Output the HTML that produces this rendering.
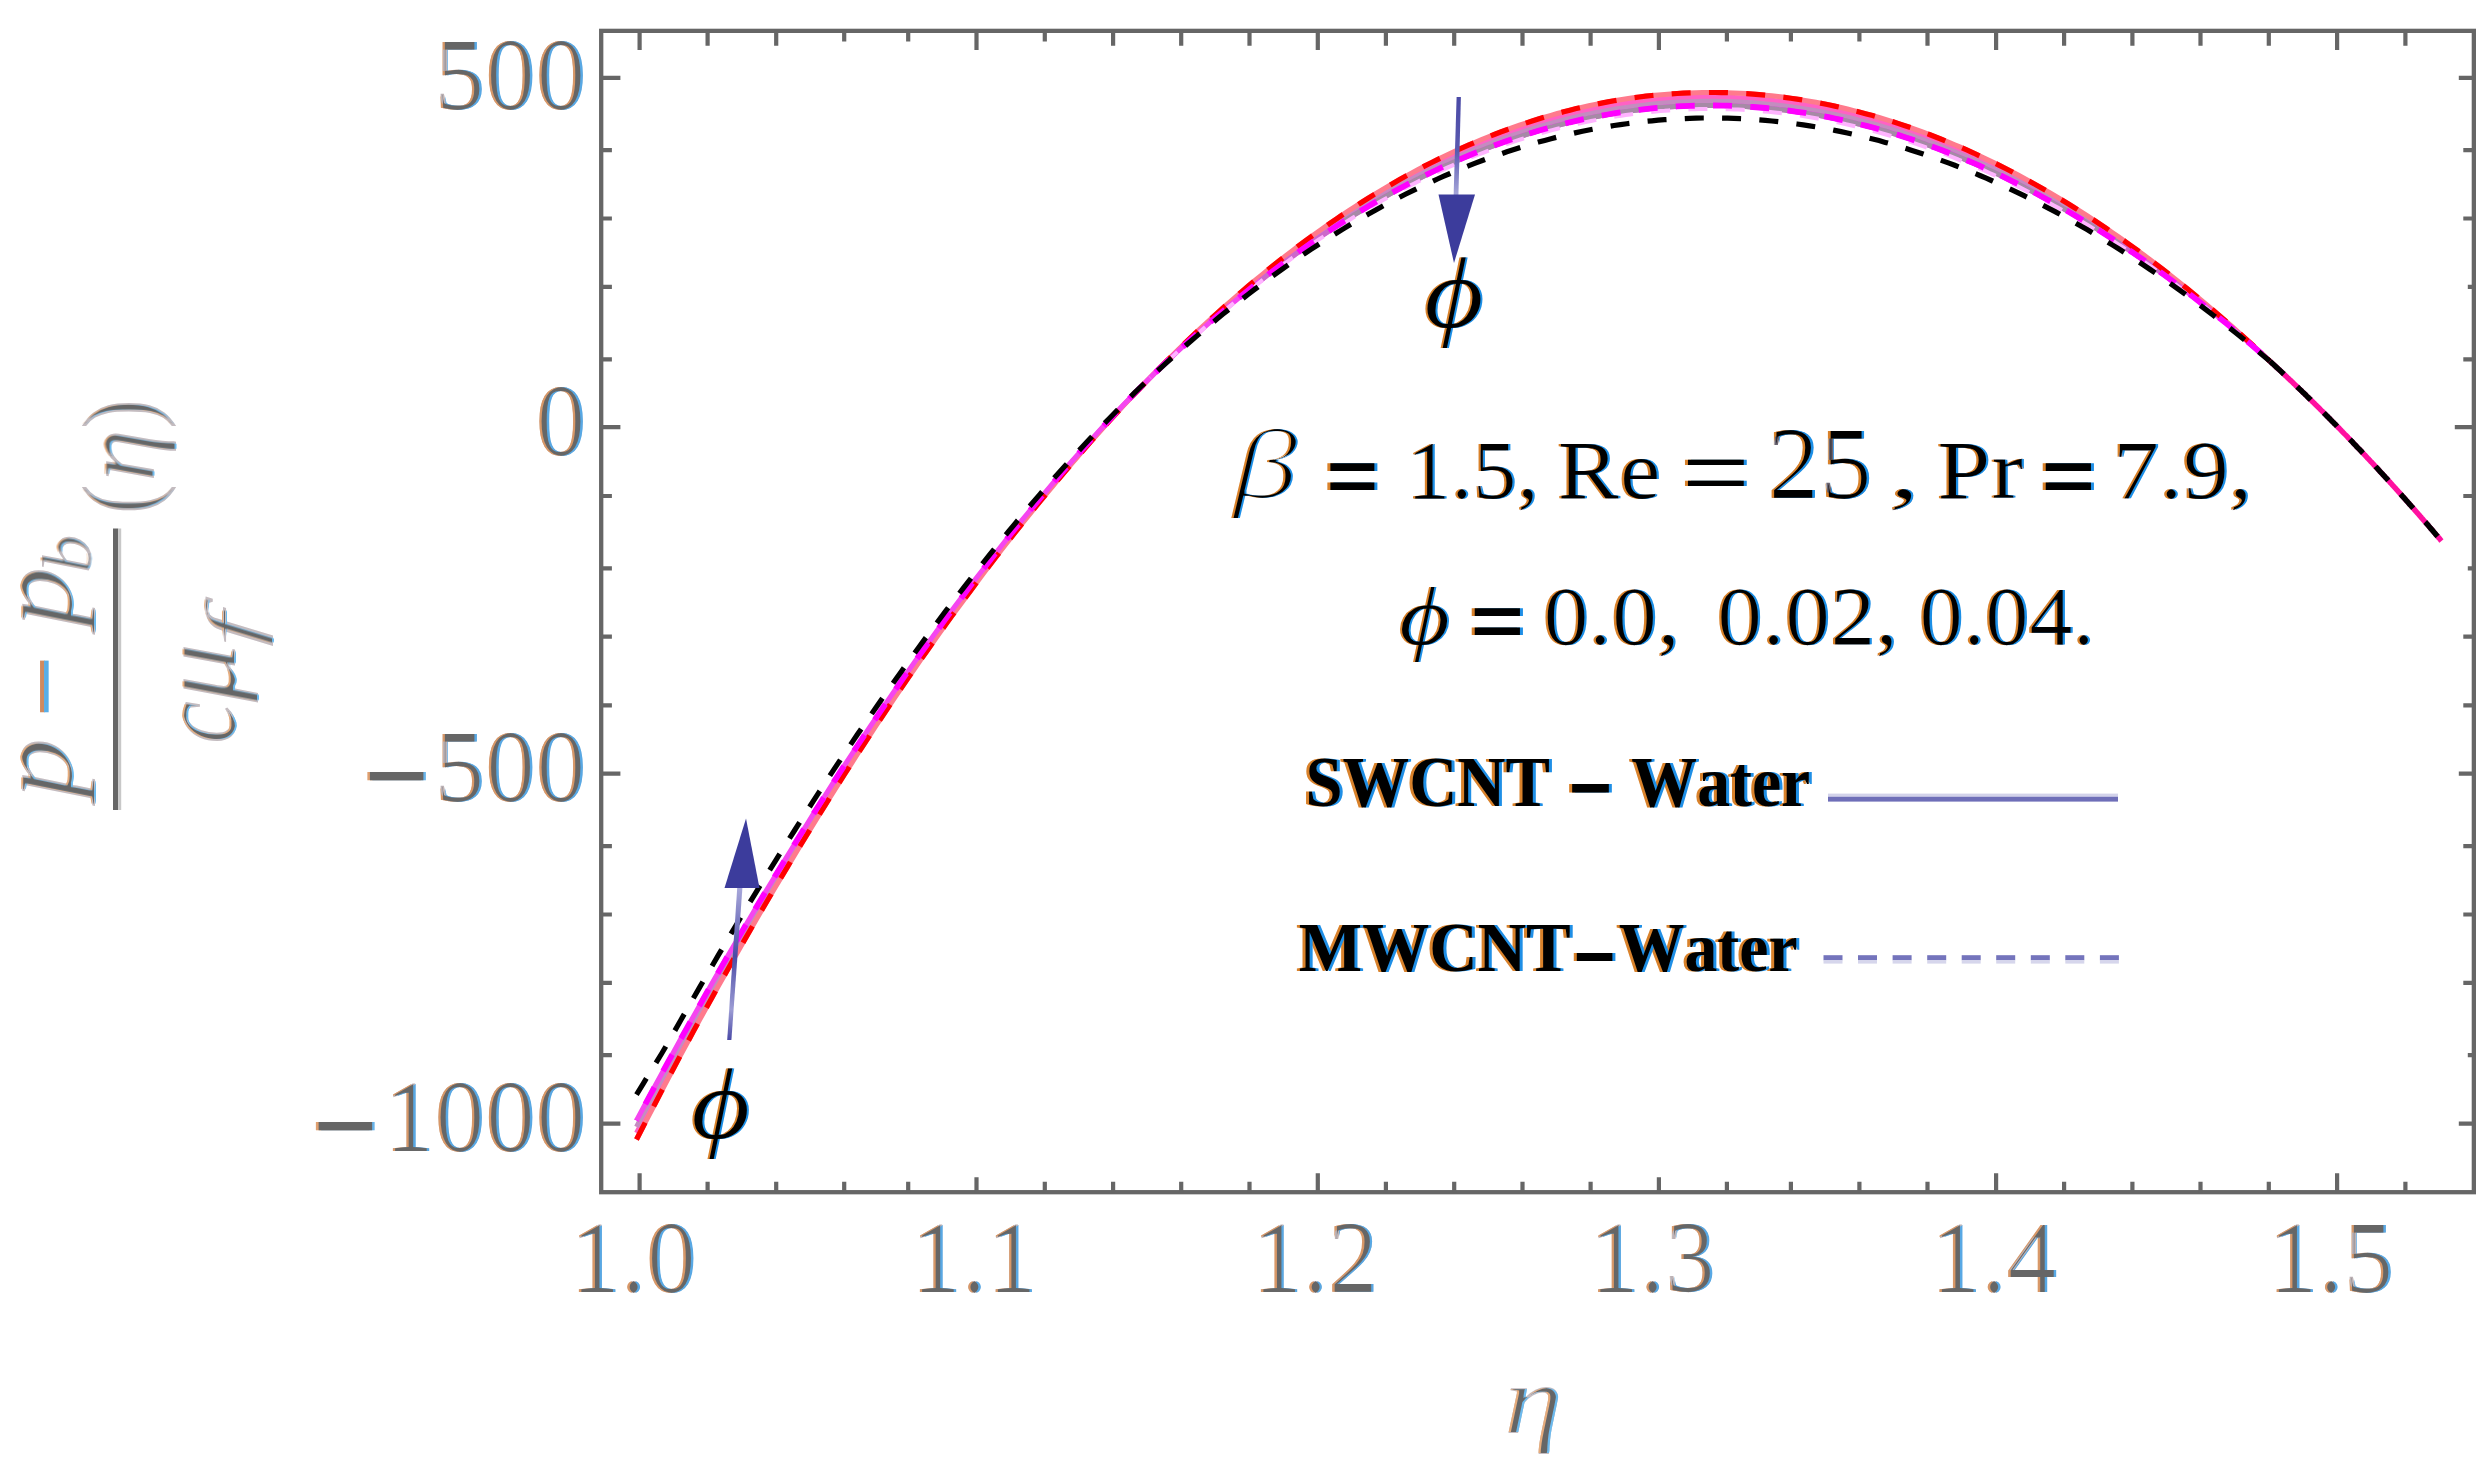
<!DOCTYPE html>
<html><head><meta charset="utf-8"><title>Pressure profile</title>
<style>
html,body{margin:0;padding:0;background:#fff;}
body{width:2492px;height:1475px;overflow:hidden;}
svg{display:block;}
text{font-kerning:none;white-space:pre;}
</style></head><body>
<svg width="2492" height="1475" viewBox="0 0 2492 1475">
<rect width="2492" height="1475" fill="#fff"/>
<defs><filter id="e2_0" x="-15%" y="-15%" width="130%" height="130%"><feMorphology operator="erode" radius="2 0"/></filter><filter id="e2_1" x="-15%" y="-15%" width="130%" height="130%"><feMorphology operator="erode" radius="2 1"/></filter><filter id="e1_0" x="-15%" y="-15%" width="130%" height="130%"><feMorphology operator="erode" radius="1 0"/></filter></defs>
<rect x="601.2" y="30.85" width="1872.6499999999999" height="1161.3500000000001" fill="none" stroke="#666666" stroke-width="4.3"/>
<path d="M639.6 30.85V50M639.6 1192.2V1173.3M707.6 30.85V45.7M707.6 1192.2V1181.8M776.2 30.85V45.7M776.2 1192.2V1181.8M844.2 30.85V41.6M844.2 1192.2V1181.8M908.2 30.85V41.6M908.2 1192.2V1181.8M976.5 30.85V50M976.5 1192.2V1177.2M1044.8 30.85V41.6M1044.8 1192.2V1181.8M1113.1 30.85V45.7M1113.1 1192.2V1181.8M1181.2 30.85V45.7M1181.2 1192.2V1181.8M1249.5 30.85V45.7M1249.5 1192.2V1181.8M1317.8 30.85V50M1317.8 1192.2V1173.3M1385.9 30.85V45.7M1385.9 1192.2V1181.8M1454.2 30.85V45.7M1454.2 1192.2V1181.8M1522.5 30.85V45.7M1522.5 1192.2V1181.8M1590.6 30.85V45.7M1590.6 1192.2V1181.8M1658.9 30.85V50M1658.9 1192.2V1177.2M1726.9 30.85V41.6M1726.9 1192.2V1181.8M1790.9 30.85V41.6M1790.9 1192.2V1181.8M1859.4 30.85V41.6M1859.4 1192.2V1181.8M1927.5 30.85V45.7M1927.5 1192.2V1181.8M1996.1 30.85V50M1996.1 1192.2V1173.3M2064.1 30.85V45.7M2064.1 1192.2V1181.8M2132.4 30.85V45.7M2132.4 1192.2V1181.8M2200.5 30.85V45.7M2200.5 1192.2V1181.8M2268.8 30.85V45.7M2268.8 1192.2V1181.8M2337.1 30.85V50M2337.1 1192.2V1173.3M2405.4 30.85V45.7M2405.4 1192.2V1181.8M601.2 77.8H620.4M2473.85 77.8H2458.8M601.2 150.2H611.9M2473.85 150.2H2463.3M601.2 218.5H611.9M2473.85 218.5H2463.3M601.2 286.9H611.9M2473.85 286.9H2467.8M601.2 359.3H611.9M2473.85 359.3H2463.3M601.2 427.2H620.4M2473.85 427.2H2454.8M601.2 496H611.9M2473.85 496H2463.3M601.2 568.4H611.9M2473.85 568.4H2467.8M601.2 636.6H611.9M2473.85 636.6H2463.3M601.2 705.4H611.9M2473.85 705.4H2463.3M601.2 773.7H620.4M2473.85 773.7H2458.8M601.2 846.1H611.9M2473.85 846.1H2463.3M601.2 914.5H611.9M2473.85 914.5H2463.3M601.2 982.8H611.9M2473.85 982.8H2463.3M601.2 1055.2H611.9M2473.85 1055.2H2467.8M601.2 1123.6H620.4M2473.85 1123.6H2458.8" stroke="#666666" stroke-width="4.2" fill="none"/>
<rect x="1828" y="793.6" width="290" height="4" fill="#d2d2ea"/>
<rect x="1828" y="796.8" width="290" height="4.8" fill="#6e6eb8"/>
<rect x="1823.5" y="955.2" width="19" height="5" fill="#7474bc"/><rect x="1823.5" y="960" width="19" height="3.6" fill="#d6d6ec"/>
<rect x="1858.0" y="955.2" width="19" height="5" fill="#7474bc"/><rect x="1858.0" y="960" width="19" height="3.6" fill="#d6d6ec"/>
<rect x="1892.6" y="955.2" width="19" height="5" fill="#7474bc"/><rect x="1892.6" y="960" width="19" height="3.6" fill="#d6d6ec"/>
<rect x="1927.2" y="955.2" width="19" height="5" fill="#7474bc"/><rect x="1927.2" y="960" width="19" height="3.6" fill="#d6d6ec"/>
<rect x="1961.7" y="955.2" width="19" height="5" fill="#7474bc"/><rect x="1961.7" y="960" width="19" height="3.6" fill="#d6d6ec"/>
<rect x="1996.2" y="955.2" width="19" height="5" fill="#7474bc"/><rect x="1996.2" y="960" width="19" height="3.6" fill="#d6d6ec"/>
<rect x="2030.8" y="955.2" width="19" height="5" fill="#7474bc"/><rect x="2030.8" y="960" width="19" height="3.6" fill="#d6d6ec"/>
<rect x="2065.3" y="955.2" width="19" height="5" fill="#7474bc"/><rect x="2065.3" y="960" width="19" height="3.6" fill="#d6d6ec"/>
<rect x="2099.9" y="955.2" width="19" height="5" fill="#7474bc"/><rect x="2099.9" y="960" width="19" height="3.6" fill="#d6d6ec"/>
<text x="434.85" y="109.2" font-family='"Liberation Serif", serif' font-size="101" fill="#bdb3b6">500</text>
<text x="432.45" y="109.2" font-family='"Liberation Serif", serif' font-size="101" fill="#d89868" filter="url(#e2_0)">500</text>
<text x="437.25" y="109.2" font-family='"Liberation Serif", serif' font-size="101" fill="#58a8e4" filter="url(#e2_0)">500</text>
<text x="434.85" y="109.2" font-family='"Liberation Serif", serif' font-size="101" fill="#666666" filter="url(#e2_0)">500</text>
<text x="535.85" y="455.2" font-family='"Liberation Serif", serif' font-size="101" fill="#bdb3b6">0</text>
<text x="533.45" y="455.2" font-family='"Liberation Serif", serif' font-size="101" fill="#d89868" filter="url(#e2_0)">0</text>
<text x="538.25" y="455.2" font-family='"Liberation Serif", serif' font-size="101" fill="#58a8e4" filter="url(#e2_0)">0</text>
<text x="535.85" y="455.2" font-family='"Liberation Serif", serif' font-size="101" fill="#666666" filter="url(#e2_0)">0</text>
<text x="434.85" y="800.7" font-family='"Liberation Serif", serif' font-size="101" fill="#bdb3b6">500</text>
<text x="432.45" y="800.7" font-family='"Liberation Serif", serif' font-size="101" fill="#d89868" filter="url(#e2_0)">500</text>
<text x="437.25" y="800.7" font-family='"Liberation Serif", serif' font-size="101" fill="#58a8e4" filter="url(#e2_0)">500</text>
<text x="434.85" y="800.7" font-family='"Liberation Serif", serif' font-size="101" fill="#666666" filter="url(#e2_0)">500</text>
<text transform="translate(361.67,830.80) scale(1.1383,1.63)" font-family='"Liberation Serif", serif' font-style="normal" font-weight="normal" font-size="101" fill="#e0a070" >−</text>
<text transform="translate(366.87,830.80) scale(1.1383,1.63)" font-family='"Liberation Serif", serif' font-style="normal" font-weight="normal" font-size="101" fill="#68b4ea" >−</text>
<text transform="translate(364.27,830.80) scale(1.1383,1.63)" font-family='"Liberation Serif", serif' font-style="normal" font-weight="normal" font-size="101" fill="#666666" >−</text>
<text x="384.35" y="1150.8" font-family='"Liberation Serif", serif' font-size="101" fill="#bdb3b6">1000</text>
<text x="381.95" y="1150.8" font-family='"Liberation Serif", serif' font-size="101" fill="#d89868" filter="url(#e2_0)">1000</text>
<text x="386.75" y="1150.8" font-family='"Liberation Serif", serif' font-size="101" fill="#58a8e4" filter="url(#e2_0)">1000</text>
<text x="384.35" y="1150.8" font-family='"Liberation Serif", serif' font-size="101" fill="#666666" filter="url(#e2_0)">1000</text>
<text transform="translate(310.37,1180.80) scale(1.1383,1.63)" font-family='"Liberation Serif", serif' font-style="normal" font-weight="normal" font-size="101" fill="#e0a070" >−</text>
<text transform="translate(315.57,1180.80) scale(1.1383,1.63)" font-family='"Liberation Serif", serif' font-style="normal" font-weight="normal" font-size="101" fill="#68b4ea" >−</text>
<text transform="translate(312.97,1180.80) scale(1.1383,1.63)" font-family='"Liberation Serif", serif' font-style="normal" font-weight="normal" font-size="101" fill="#666666" >−</text>
<text x="570.50" y="1291.7" font-family='"Liberation Serif", serif' font-size="101" fill="#bdb3b6">1.0</text>
<text x="568.10" y="1291.7" font-family='"Liberation Serif", serif' font-size="101" fill="#d89868" filter="url(#e2_0)">1.0</text>
<text x="572.90" y="1291.7" font-family='"Liberation Serif", serif' font-size="101" fill="#58a8e4" filter="url(#e2_0)">1.0</text>
<text x="570.50" y="1291.7" font-family='"Liberation Serif", serif' font-size="101" fill="#666666" filter="url(#e2_0)">1.0</text>
<text x="911.30" y="1291.7" font-family='"Liberation Serif", serif' font-size="101" fill="#bdb3b6">1.1</text>
<text x="908.90" y="1291.7" font-family='"Liberation Serif", serif' font-size="101" fill="#d89868" filter="url(#e2_0)">1.1</text>
<text x="913.70" y="1291.7" font-family='"Liberation Serif", serif' font-size="101" fill="#58a8e4" filter="url(#e2_0)">1.1</text>
<text x="911.30" y="1291.7" font-family='"Liberation Serif", serif' font-size="101" fill="#666666" filter="url(#e2_0)">1.1</text>
<text x="1252.40" y="1291.7" font-family='"Liberation Serif", serif' font-size="101" fill="#bdb3b6">1.2</text>
<text x="1250.00" y="1291.7" font-family='"Liberation Serif", serif' font-size="101" fill="#d89868" filter="url(#e2_0)">1.2</text>
<text x="1254.80" y="1291.7" font-family='"Liberation Serif", serif' font-size="101" fill="#58a8e4" filter="url(#e2_0)">1.2</text>
<text x="1252.40" y="1291.7" font-family='"Liberation Serif", serif' font-size="101" fill="#666666" filter="url(#e2_0)">1.2</text>
<text x="1589.60" y="1291.7" font-family='"Liberation Serif", serif' font-size="101" fill="#bdb3b6">1.3</text>
<text x="1587.20" y="1291.7" font-family='"Liberation Serif", serif' font-size="101" fill="#d89868" filter="url(#e2_0)">1.3</text>
<text x="1592.00" y="1291.7" font-family='"Liberation Serif", serif' font-size="101" fill="#58a8e4" filter="url(#e2_0)">1.3</text>
<text x="1589.60" y="1291.7" font-family='"Liberation Serif", serif' font-size="101" fill="#666666" filter="url(#e2_0)">1.3</text>
<text x="1931.00" y="1291.7" font-family='"Liberation Serif", serif' font-size="101" fill="#bdb3b6">1.4</text>
<text x="1928.60" y="1291.7" font-family='"Liberation Serif", serif' font-size="101" fill="#d89868" filter="url(#e2_0)">1.4</text>
<text x="1933.40" y="1291.7" font-family='"Liberation Serif", serif' font-size="101" fill="#58a8e4" filter="url(#e2_0)">1.4</text>
<text x="1931.00" y="1291.7" font-family='"Liberation Serif", serif' font-size="101" fill="#666666" filter="url(#e2_0)">1.4</text>
<text x="2268.10" y="1291.7" font-family='"Liberation Serif", serif' font-size="101" fill="#bdb3b6">1.5</text>
<text x="2265.70" y="1291.7" font-family='"Liberation Serif", serif' font-size="101" fill="#d89868" filter="url(#e2_0)">1.5</text>
<text x="2270.50" y="1291.7" font-family='"Liberation Serif", serif' font-size="101" fill="#58a8e4" filter="url(#e2_0)">1.5</text>
<text x="2268.10" y="1291.7" font-family='"Liberation Serif", serif' font-size="101" fill="#666666" filter="url(#e2_0)">1.5</text>
<text transform="translate(1504.29,1433.30) scale(1.2057,1.0)" font-family='"Liberation Serif", serif' font-style="italic" font-weight="normal" font-size="98" fill="#c4bcc0" >η</text>
<text transform="translate(1502.09,1433.30) scale(1.2057,1.0)" font-family='"Liberation Serif", serif' font-style="italic" font-weight="normal" font-size="98" fill="#e6ac7c" filter="url(#e2_1)" >η</text>
<text transform="translate(1506.49,1433.30) scale(1.2057,1.0)" font-family='"Liberation Serif", serif' font-style="italic" font-weight="normal" font-size="98" fill="#6cbaee" filter="url(#e2_1)" >η</text>
<text transform="translate(1504.29,1433.30) scale(1.2057,1.0)" font-family='"Liberation Serif", serif' font-style="italic" font-weight="normal" font-size="98" fill="#666666" filter="url(#e2_1)" >η</text>
<g transform="rotate(-90)">
<text transform="translate(-798.86,72.00) scale(1.1287,1.0)" font-family='"Liberation Serif", serif' font-style="italic" font-weight="normal" font-size="108" fill="#c4bcc0" >p</text>
<text transform="translate(-798.86,70.00) scale(1.1287,1.0)" font-family='"Liberation Serif", serif' font-style="italic" font-weight="normal" font-size="108" fill="#e6ac7c" filter="url(#e2_1)" >p</text>
<text transform="translate(-798.86,74.00) scale(1.1287,1.0)" font-family='"Liberation Serif", serif' font-style="italic" font-weight="normal" font-size="108" fill="#6cbaee" filter="url(#e2_1)" >p</text>
<text transform="translate(-798.86,72.00) scale(1.1287,1.0)" font-family='"Liberation Serif", serif' font-style="italic" font-weight="normal" font-size="108" fill="#666666" filter="url(#e2_1)" >p</text>
<text transform="translate(-717.52,72.70) scale(1.1089,0.92)" font-family='"Liberation Serif", serif' font-style="normal" font-weight="normal" font-size="100" fill="#cf8a60" >−</text>
<text transform="translate(-717.52,77.30) scale(1.1089,0.92)" font-family='"Liberation Serif", serif' font-style="normal" font-weight="normal" font-size="100" fill="#58aee8" >−</text>
<text transform="translate(-627.46,72.00) scale(1.1287,1.0)" font-family='"Liberation Serif", serif' font-style="italic" font-weight="normal" font-size="108" fill="#c4bcc0" >p</text>
<text transform="translate(-627.46,70.00) scale(1.1287,1.0)" font-family='"Liberation Serif", serif' font-style="italic" font-weight="normal" font-size="108" fill="#e6ac7c" filter="url(#e2_1)" >p</text>
<text transform="translate(-627.46,74.00) scale(1.1287,1.0)" font-family='"Liberation Serif", serif' font-style="italic" font-weight="normal" font-size="108" fill="#6cbaee" filter="url(#e2_1)" >p</text>
<text transform="translate(-627.46,72.00) scale(1.1287,1.0)" font-family='"Liberation Serif", serif' font-style="italic" font-weight="normal" font-size="108" fill="#666666" filter="url(#e2_1)" >p</text>
<text transform="translate(-573.40,90.50) scale(1.1161,1.0)" font-family='"Liberation Serif", serif' font-style="italic" font-weight="normal" font-size="70" fill="#c4bcc0" >b</text>
<text transform="translate(-573.40,88.50) scale(1.1161,1.0)" font-family='"Liberation Serif", serif' font-style="italic" font-weight="normal" font-size="70" fill="#e6ac7c" filter="url(#e2_1)" >b</text>
<text transform="translate(-573.40,92.50) scale(1.1161,1.0)" font-family='"Liberation Serif", serif' font-style="italic" font-weight="normal" font-size="70" fill="#6cbaee" filter="url(#e2_1)" >b</text>
<text transform="translate(-573.40,90.50) scale(1.1161,1.0)" font-family='"Liberation Serif", serif' font-style="italic" font-weight="normal" font-size="70" fill="#666666" filter="url(#e2_1)" >b</text>
<text transform="translate(-743.98,235.00) scale(0.8812,1.0)" font-family='"Liberation Serif", serif' font-style="italic" font-weight="normal" font-size="110" fill="#c4bcc0" >c</text>
<text transform="translate(-743.98,233.00) scale(0.8812,1.0)" font-family='"Liberation Serif", serif' font-style="italic" font-weight="normal" font-size="110" fill="#e6ac7c" filter="url(#e2_1)" >c</text>
<text transform="translate(-743.98,237.00) scale(0.8812,1.0)" font-family='"Liberation Serif", serif' font-style="italic" font-weight="normal" font-size="110" fill="#6cbaee" filter="url(#e2_1)" >c</text>
<text transform="translate(-743.98,235.00) scale(0.8812,1.0)" font-family='"Liberation Serif", serif' font-style="italic" font-weight="normal" font-size="110" fill="#666666" filter="url(#e2_1)" >c</text>
<text transform="translate(-702.38,235.00) scale(1.0780,1.0)" font-family='"Liberation Serif", serif' font-style="italic" font-weight="normal" font-size="110" fill="#c4bcc0" >μ</text>
<text transform="translate(-702.38,233.00) scale(1.0780,1.0)" font-family='"Liberation Serif", serif' font-style="italic" font-weight="normal" font-size="110" fill="#e6ac7c" filter="url(#e2_1)" >μ</text>
<text transform="translate(-702.38,237.00) scale(1.0780,1.0)" font-family='"Liberation Serif", serif' font-style="italic" font-weight="normal" font-size="110" fill="#6cbaee" filter="url(#e2_1)" >μ</text>
<text transform="translate(-702.38,235.00) scale(1.0780,1.0)" font-family='"Liberation Serif", serif' font-style="italic" font-weight="normal" font-size="110" fill="#666666" filter="url(#e2_1)" >μ</text>
<text transform="translate(-647.46,257.00) scale(1.7320,1.0)" font-family='"Liberation Serif", serif' font-style="italic" font-weight="normal" font-size="75" fill="#c4bcc0" >f</text>
<text transform="translate(-647.46,255.00) scale(1.7320,1.0)" font-family='"Liberation Serif", serif' font-style="italic" font-weight="normal" font-size="75" fill="#e6ac7c" filter="url(#e2_1)" >f</text>
<text transform="translate(-647.46,259.00) scale(1.7320,1.0)" font-family='"Liberation Serif", serif' font-style="italic" font-weight="normal" font-size="75" fill="#6cbaee" filter="url(#e2_1)" >f</text>
<text transform="translate(-647.46,257.00) scale(1.7320,1.0)" font-family='"Liberation Serif", serif' font-style="italic" font-weight="normal" font-size="75" fill="#666666" filter="url(#e2_1)" >f</text>
<text transform="translate(-514.17,153.50) scale(0.8686,1.0)" font-family='"Liberation Serif", serif' font-style="normal" font-weight="normal" font-size="104" fill="#c4bcc0" >(</text>
<text transform="translate(-514.17,151.50) scale(0.8686,1.0)" font-family='"Liberation Serif", serif' font-style="normal" font-weight="normal" font-size="104" fill="#e6ac7c" filter="url(#e2_1)" >(</text>
<text transform="translate(-514.17,155.50) scale(0.8686,1.0)" font-family='"Liberation Serif", serif' font-style="normal" font-weight="normal" font-size="104" fill="#6cbaee" filter="url(#e2_1)" >(</text>
<text transform="translate(-514.17,153.50) scale(0.8686,1.0)" font-family='"Liberation Serif", serif' font-style="normal" font-weight="normal" font-size="104" fill="#666666" filter="url(#e2_1)" >(</text>
<text transform="translate(-481.79,153.50) scale(1.0213,1.0)" font-family='"Liberation Serif", serif' font-style="italic" font-weight="normal" font-size="104" fill="#c4bcc0" >η</text>
<text transform="translate(-481.79,151.50) scale(1.0213,1.0)" font-family='"Liberation Serif", serif' font-style="italic" font-weight="normal" font-size="104" fill="#e6ac7c" filter="url(#e2_1)" >η</text>
<text transform="translate(-481.79,155.50) scale(1.0213,1.0)" font-family='"Liberation Serif", serif' font-style="italic" font-weight="normal" font-size="104" fill="#6cbaee" filter="url(#e2_1)" >η</text>
<text transform="translate(-481.79,153.50) scale(1.0213,1.0)" font-family='"Liberation Serif", serif' font-style="italic" font-weight="normal" font-size="104" fill="#666666" filter="url(#e2_1)" >η</text>
<text transform="translate(-428.91,153.50) scale(0.8686,1.0)" font-family='"Liberation Serif", serif' font-style="normal" font-weight="normal" font-size="104" fill="#c4bcc0" >)</text>
<text transform="translate(-428.91,151.50) scale(0.8686,1.0)" font-family='"Liberation Serif", serif' font-style="normal" font-weight="normal" font-size="104" fill="#e6ac7c" filter="url(#e2_1)" >)</text>
<text transform="translate(-428.91,155.50) scale(0.8686,1.0)" font-family='"Liberation Serif", serif' font-style="normal" font-weight="normal" font-size="104" fill="#6cbaee" filter="url(#e2_1)" >)</text>
<text transform="translate(-428.91,153.50) scale(0.8686,1.0)" font-family='"Liberation Serif", serif' font-style="normal" font-weight="normal" font-size="104" fill="#666666" filter="url(#e2_1)" >)</text>
</g>
<rect x="113" y="528.5" width="5.2" height="281.5" fill="#666666"/><rect x="118.2" y="528.5" width="3" height="281.5" fill="#c8c8c8"/>
<text transform="translate(1229.96,498.20) scale(1.3400,1.0)" font-family='"Liberation Serif", serif' font-style="italic" font-weight="normal" font-size="100" fill="#d9822b" filter="url(#e2_1)" >β</text>
<text transform="translate(1234.36,498.20) scale(1.3400,1.0)" font-family='"Liberation Serif", serif' font-style="italic" font-weight="normal" font-size="100" fill="#1f8fe6" filter="url(#e2_1)" >β</text>
<text transform="translate(1232.16,498.20) scale(1.3400,1.0)" font-family='"Liberation Serif", serif' font-style="italic" font-weight="normal" font-size="100" fill="#000" filter="url(#e2_1)" >β</text>
<text transform="translate(1323.66,500.20) scale(1.0446,0.835)" font-family='"Liberation Sans", sans-serif' font-style="normal" font-weight="bold" font-size="84" fill="#d9822b" >=</text>
<text transform="translate(1329.66,500.20) scale(1.0446,0.835)" font-family='"Liberation Sans", sans-serif' font-style="normal" font-weight="bold" font-size="84" fill="#1f8fe6" >=</text>
<text transform="translate(1326.66,500.20) scale(1.0446,0.835)" font-family='"Liberation Sans", sans-serif' font-style="normal" font-weight="bold" font-size="84" fill="#000" >=</text>
<text transform="translate(1406.53,498.20) scale(1.0775,1.0)" font-family='"Liberation Serif", serif' font-style="normal" font-weight="normal" font-size="82" fill="#6a6470" >1.5,</text>
<text transform="translate(1404.23,498.20) scale(1.0775,1.0)" font-family='"Liberation Serif", serif' font-style="normal" font-weight="normal" font-size="82" fill="#d9822b" filter="url(#e1_0)" >1.5,</text>
<text transform="translate(1408.83,498.20) scale(1.0775,1.0)" font-family='"Liberation Serif", serif' font-style="normal" font-weight="normal" font-size="82" fill="#1f8fe6" filter="url(#e1_0)" >1.5,</text>
<text transform="translate(1406.53,498.20) scale(1.0775,1.0)" font-family='"Liberation Serif", serif' font-style="normal" font-weight="normal" font-size="82" fill="#000" filter="url(#e1_0)" >1.5,</text>
<text transform="translate(1557.32,498.20) scale(1.1353,1.0)" font-family='"Liberation Serif", serif' font-style="normal" font-weight="normal" font-size="82" fill="#6a6470" >Re</text>
<text transform="translate(1555.02,498.20) scale(1.1353,1.0)" font-family='"Liberation Serif", serif' font-style="normal" font-weight="normal" font-size="82" fill="#d9822b" filter="url(#e1_0)" >Re</text>
<text transform="translate(1559.62,498.20) scale(1.1353,1.0)" font-family='"Liberation Serif", serif' font-style="normal" font-weight="normal" font-size="82" fill="#1f8fe6" filter="url(#e1_0)" >Re</text>
<text transform="translate(1557.32,498.20) scale(1.1353,1.0)" font-family='"Liberation Serif", serif' font-style="normal" font-weight="normal" font-size="82" fill="#000" filter="url(#e1_0)" >Re</text>
<text transform="translate(1679.03,507.80) scale(1.0162,0.89)" font-family='"Liberation Serif", serif' font-style="normal" font-weight="normal" font-size="118" fill="#d9822b" >=</text>
<text transform="translate(1685.03,507.80) scale(1.0162,0.89)" font-family='"Liberation Serif", serif' font-style="normal" font-weight="normal" font-size="118" fill="#1f8fe6" >=</text>
<text transform="translate(1682.03,507.80) scale(1.0162,0.89)" font-family='"Liberation Serif", serif' font-style="normal" font-weight="normal" font-size="118" fill="#000" >=</text>
<text transform="translate(1767.58,498.20) scale(1.0409,1.0)" font-family='"Liberation Serif", serif' font-style="normal" font-weight="normal" font-size="101" fill="#6a6470" >25</text>
<text transform="translate(1764.98,498.20) scale(1.0409,1.0)" font-family='"Liberation Serif", serif' font-style="normal" font-weight="normal" font-size="101" fill="#d9822b" filter="url(#e2_0)" >25</text>
<text transform="translate(1770.18,498.20) scale(1.0409,1.0)" font-family='"Liberation Serif", serif' font-style="normal" font-weight="normal" font-size="101" fill="#1f8fe6" filter="url(#e2_0)" >25</text>
<text transform="translate(1767.58,498.20) scale(1.0409,1.0)" font-family='"Liberation Serif", serif' font-style="normal" font-weight="normal" font-size="101" fill="#000" filter="url(#e2_0)" >25</text>
<text transform="translate(1887.38,498.20) scale(1.6705,1.0)" font-family='"Liberation Serif", serif' font-style="normal" font-weight="normal" font-size="82" fill="#6a6470" >,</text>
<text transform="translate(1885.08,498.20) scale(1.6705,1.0)" font-family='"Liberation Serif", serif' font-style="normal" font-weight="normal" font-size="82" fill="#d9822b" filter="url(#e1_0)" >,</text>
<text transform="translate(1889.68,498.20) scale(1.6705,1.0)" font-family='"Liberation Serif", serif' font-style="normal" font-weight="normal" font-size="82" fill="#1f8fe6" filter="url(#e1_0)" >,</text>
<text transform="translate(1887.38,498.20) scale(1.6705,1.0)" font-family='"Liberation Serif", serif' font-style="normal" font-weight="normal" font-size="82" fill="#000" filter="url(#e1_0)" >,</text>
<text transform="translate(1936.79,498.20) scale(1.1901,1.0)" font-family='"Liberation Serif", serif' font-style="normal" font-weight="normal" font-size="82" fill="#6a6470" >Pr</text>
<text transform="translate(1934.49,498.20) scale(1.1901,1.0)" font-family='"Liberation Serif", serif' font-style="normal" font-weight="normal" font-size="82" fill="#d9822b" filter="url(#e1_0)" >Pr</text>
<text transform="translate(1939.09,498.20) scale(1.1901,1.0)" font-family='"Liberation Serif", serif' font-style="normal" font-weight="normal" font-size="82" fill="#1f8fe6" filter="url(#e1_0)" >Pr</text>
<text transform="translate(1936.79,498.20) scale(1.1901,1.0)" font-family='"Liberation Serif", serif' font-style="normal" font-weight="normal" font-size="82" fill="#000" filter="url(#e1_0)" >Pr</text>
<text transform="translate(2039.06,500.20) scale(1.0730,0.835)" font-family='"Liberation Sans", sans-serif' font-style="normal" font-weight="bold" font-size="84" fill="#d9822b" >=</text>
<text transform="translate(2045.06,500.20) scale(1.0730,0.835)" font-family='"Liberation Sans", sans-serif' font-style="normal" font-weight="bold" font-size="84" fill="#1f8fe6" >=</text>
<text transform="translate(2042.06,500.20) scale(1.0730,0.835)" font-family='"Liberation Sans", sans-serif' font-style="normal" font-weight="bold" font-size="84" fill="#000" >=</text>
<text transform="translate(2112.87,498.20) scale(1.1349,1.0)" font-family='"Liberation Serif", serif' font-style="normal" font-weight="normal" font-size="82" fill="#6a6470" >7.9,</text>
<text transform="translate(2110.57,498.20) scale(1.1349,1.0)" font-family='"Liberation Serif", serif' font-style="normal" font-weight="normal" font-size="82" fill="#d9822b" filter="url(#e1_0)" >7.9,</text>
<text transform="translate(2115.17,498.20) scale(1.1349,1.0)" font-family='"Liberation Serif", serif' font-style="normal" font-weight="normal" font-size="82" fill="#1f8fe6" filter="url(#e1_0)" >7.9,</text>
<text transform="translate(2112.87,498.20) scale(1.1349,1.0)" font-family='"Liberation Serif", serif' font-style="normal" font-weight="normal" font-size="82" fill="#000" filter="url(#e1_0)" >7.9,</text>
<text transform="translate(1398.71,643.70) scale(1.2164,1.0)" font-family='"Liberation Serif", serif' font-style="italic" font-weight="normal" font-size="82" fill="#8a8088" >ϕ</text>
<text transform="translate(1396.71,643.70) scale(1.2164,1.0)" font-family='"Liberation Serif", serif' font-style="italic" font-weight="normal" font-size="82" fill="#d9822b" filter="url(#e1_0)" >ϕ</text>
<text transform="translate(1400.71,643.70) scale(1.2164,1.0)" font-family='"Liberation Serif", serif' font-style="italic" font-weight="normal" font-size="82" fill="#1f8fe6" filter="url(#e1_0)" >ϕ</text>
<text transform="translate(1398.71,643.70) scale(1.2164,1.0)" font-family='"Liberation Serif", serif' font-style="italic" font-weight="normal" font-size="82" fill="#000" filter="url(#e1_0)" >ϕ</text>
<text transform="translate(1468.06,644.70) scale(1.0730,0.835)" font-family='"Liberation Sans", sans-serif' font-style="normal" font-weight="bold" font-size="84" fill="#d9822b" >=</text>
<text transform="translate(1474.06,644.70) scale(1.0730,0.835)" font-family='"Liberation Sans", sans-serif' font-style="normal" font-weight="bold" font-size="84" fill="#1f8fe6" >=</text>
<text transform="translate(1471.06,644.70) scale(1.0730,0.835)" font-family='"Liberation Sans", sans-serif' font-style="normal" font-weight="bold" font-size="84" fill="#000" >=</text>
<text transform="translate(1543.23,643.70) scale(1.1124,1.0)" font-family='"Liberation Serif", serif' font-style="normal" font-weight="normal" font-size="82" fill="#6a6470" >0.0,</text>
<text transform="translate(1540.93,643.70) scale(1.1124,1.0)" font-family='"Liberation Serif", serif' font-style="normal" font-weight="normal" font-size="82" fill="#d9822b" filter="url(#e1_0)" >0.0,</text>
<text transform="translate(1545.53,643.70) scale(1.1124,1.0)" font-family='"Liberation Serif", serif' font-style="normal" font-weight="normal" font-size="82" fill="#1f8fe6" filter="url(#e1_0)" >0.0,</text>
<text transform="translate(1543.23,643.70) scale(1.1124,1.0)" font-family='"Liberation Serif", serif' font-style="normal" font-weight="normal" font-size="82" fill="#000" filter="url(#e1_0)" >0.0,</text>
<text transform="translate(1717.05,643.70) scale(1.1052,1.0)" font-family='"Liberation Serif", serif' font-style="normal" font-weight="normal" font-size="82" fill="#6a6470" >0.02,</text>
<text transform="translate(1714.75,643.70) scale(1.1052,1.0)" font-family='"Liberation Serif", serif' font-style="normal" font-weight="normal" font-size="82" fill="#d9822b" filter="url(#e1_0)" >0.02,</text>
<text transform="translate(1719.35,643.70) scale(1.1052,1.0)" font-family='"Liberation Serif", serif' font-style="normal" font-weight="normal" font-size="82" fill="#1f8fe6" filter="url(#e1_0)" >0.02,</text>
<text transform="translate(1717.05,643.70) scale(1.1052,1.0)" font-family='"Liberation Serif", serif' font-style="normal" font-weight="normal" font-size="82" fill="#000" filter="url(#e1_0)" >0.02,</text>
<text transform="translate(1919.36,643.70) scale(1.0690,1.0)" font-family='"Liberation Serif", serif' font-style="normal" font-weight="normal" font-size="82" fill="#6a6470" >0.04.</text>
<text transform="translate(1917.06,643.70) scale(1.0690,1.0)" font-family='"Liberation Serif", serif' font-style="normal" font-weight="normal" font-size="82" fill="#d9822b" filter="url(#e1_0)" >0.04.</text>
<text transform="translate(1921.66,643.70) scale(1.0690,1.0)" font-family='"Liberation Serif", serif' font-style="normal" font-weight="normal" font-size="82" fill="#1f8fe6" filter="url(#e1_0)" >0.04.</text>
<text transform="translate(1919.36,643.70) scale(1.0690,1.0)" font-family='"Liberation Serif", serif' font-style="normal" font-weight="normal" font-size="82" fill="#000" filter="url(#e1_0)" >0.04.</text>
<text transform="translate(1423.82,326.50) scale(1.1673,1.0)" font-family='"Liberation Serif", serif' font-style="italic" font-weight="normal" font-size="100" fill="#8a8088" >ϕ</text>
<text transform="translate(1421.82,326.50) scale(1.1673,1.0)" font-family='"Liberation Serif", serif' font-style="italic" font-weight="normal" font-size="100" fill="#d9822b" filter="url(#e1_0)" >ϕ</text>
<text transform="translate(1425.82,326.50) scale(1.1673,1.0)" font-family='"Liberation Serif", serif' font-style="italic" font-weight="normal" font-size="100" fill="#1f8fe6" filter="url(#e1_0)" >ϕ</text>
<text transform="translate(1423.82,326.50) scale(1.1673,1.0)" font-family='"Liberation Serif", serif' font-style="italic" font-weight="normal" font-size="100" fill="#000" filter="url(#e1_0)" >ϕ</text>
<text transform="translate(690.85,1137.50) scale(1.1566,1.0)" font-family='"Liberation Serif", serif' font-style="italic" font-weight="normal" font-size="100" fill="#8a8088" >ϕ</text>
<text transform="translate(688.85,1137.50) scale(1.1566,1.0)" font-family='"Liberation Serif", serif' font-style="italic" font-weight="normal" font-size="100" fill="#d9822b" filter="url(#e1_0)" >ϕ</text>
<text transform="translate(692.85,1137.50) scale(1.1566,1.0)" font-family='"Liberation Serif", serif' font-style="italic" font-weight="normal" font-size="100" fill="#1f8fe6" filter="url(#e1_0)" >ϕ</text>
<text transform="translate(690.85,1137.50) scale(1.1566,1.0)" font-family='"Liberation Serif", serif' font-style="italic" font-weight="normal" font-size="100" fill="#000" filter="url(#e1_0)" >ϕ</text>
<text transform="translate(1302.45,805.70) scale(0.9388,1.0)" font-family='"Liberation Serif", serif' font-style="normal" font-weight="bold" font-size="71" fill="#d9822b" >SWCNT</text>
<text transform="translate(1308.45,805.70) scale(0.9388,1.0)" font-family='"Liberation Serif", serif' font-style="normal" font-weight="bold" font-size="71" fill="#1f8fe6" >SWCNT</text>
<text transform="translate(1305.45,805.70) scale(0.9388,1.0)" font-family='"Liberation Serif", serif' font-style="normal" font-weight="bold" font-size="71" fill="#000" >SWCNT</text>
<text transform="translate(1565.04,828.00) scale(1.1120,1.69)" font-family='"Liberation Serif", serif' font-style="normal" font-weight="bold" font-size="71" fill="#d9822b" >−</text>
<text transform="translate(1571.04,828.00) scale(1.1120,1.69)" font-family='"Liberation Serif", serif' font-style="normal" font-weight="bold" font-size="71" fill="#1f8fe6" >−</text>
<text transform="translate(1568.04,828.00) scale(1.1120,1.69)" font-family='"Liberation Serif", serif' font-style="normal" font-weight="bold" font-size="71" fill="#000" >−</text>
<text transform="translate(1628.37,805.70) scale(0.9264,1.0)" font-family='"Liberation Serif", serif' font-style="normal" font-weight="bold" font-size="71" fill="#d9822b" >Water</text>
<text transform="translate(1634.37,805.70) scale(0.9264,1.0)" font-family='"Liberation Serif", serif' font-style="normal" font-weight="bold" font-size="71" fill="#1f8fe6" >Water</text>
<text transform="translate(1631.37,805.70) scale(0.9264,1.0)" font-family='"Liberation Serif", serif' font-style="normal" font-weight="bold" font-size="71" fill="#000" >Water</text>
<text transform="translate(1295.85,971.10) scale(0.9720,1.0)" font-family='"Liberation Serif", serif' font-style="normal" font-weight="bold" font-size="69" fill="#d9822b" >MWCNT</text>
<text transform="translate(1301.85,971.10) scale(0.9720,1.0)" font-family='"Liberation Serif", serif' font-style="normal" font-weight="bold" font-size="69" fill="#1f8fe6" >MWCNT</text>
<text transform="translate(1298.85,971.10) scale(0.9720,1.0)" font-family='"Liberation Serif", serif' font-style="normal" font-weight="bold" font-size="69" fill="#000" >MWCNT</text>
<text transform="translate(1569.86,995.00) scale(1.1099,1.66)" font-family='"Liberation Serif", serif' font-style="normal" font-weight="bold" font-size="69" fill="#d9822b" >−</text>
<text transform="translate(1575.86,995.00) scale(1.1099,1.66)" font-family='"Liberation Serif", serif' font-style="normal" font-weight="bold" font-size="69" fill="#1f8fe6" >−</text>
<text transform="translate(1572.86,995.00) scale(1.1099,1.66)" font-family='"Liberation Serif", serif' font-style="normal" font-weight="bold" font-size="69" fill="#000" >−</text>
<text transform="translate(1615.77,971.10) scale(0.9527,1.0)" font-family='"Liberation Serif", serif' font-style="normal" font-weight="bold" font-size="69" fill="#d9822b" >Water</text>
<text transform="translate(1621.77,971.10) scale(0.9527,1.0)" font-family='"Liberation Serif", serif' font-style="normal" font-weight="bold" font-size="69" fill="#1f8fe6" >Water</text>
<text transform="translate(1618.77,971.10) scale(0.9527,1.0)" font-family='"Liberation Serif", serif' font-style="normal" font-weight="bold" font-size="69" fill="#000" >Water</text>
<path d="M636.5 1133.0 L642.8 1121.0 L649.1 1108.9 L655.4 1097.0 L661.7 1085.1 L668.0 1073.2 L674.3 1061.5 L680.6 1049.7 L687.0 1038.1 L693.3 1026.5 L699.6 1015.0 L705.9 1003.7 L712.2 992.4 L718.5 981.2 L724.8 970.1 L731.1 959.0 L737.4 948.0 L743.7 937.1 L750.0 926.2 L756.3 915.4 L762.6 904.7 L768.9 894.0 L775.3 883.4 L781.6 872.8 L787.9 862.4 L794.2 851.9 L800.5 841.6 L806.8 831.4 L813.1 821.2 L819.4 811.0 L825.7 801.0 L832.0 791.0 L838.3 781.0 L844.6 771.2 L850.9 761.4 L857.2 751.6 L863.6 742.0 L869.9 732.4 L876.2 722.9 L882.5 713.4 L888.8 704.0 L895.1 694.7 L901.4 685.5 L907.7 676.3 L914.0 667.2 L920.3 658.2 L926.6 649.3 L932.9 640.4 L939.2 631.6 L945.5 622.9 L951.8 614.2 L958.2 605.6 L964.5 597.1 L970.8 588.7 L977.1 580.3 L983.4 572.0 L989.7 563.7 L996.0 555.5 L1002.3 547.4 L1008.6 539.4 L1014.9 531.4 L1021.2 523.5 L1027.5 515.7 L1033.8 508.0 L1040.1 500.3 L1046.5 492.7 L1052.8 485.1 L1059.1 477.7 L1065.4 470.3 L1071.7 462.9 L1078.0 455.7 L1084.3 448.5 L1090.6 441.4 L1096.9 434.3 L1103.2 427.3 L1109.5 420.4 L1115.8 413.6 L1122.1 406.9 L1128.4 400.2 L1134.7 393.5 L1141.1 387.0 L1147.4 380.5 L1153.7 374.1 L1160.0 367.9 L1166.3 361.7 L1172.6 355.5 L1178.9 349.4 L1185.2 343.5 L1191.5 337.5 L1197.8 331.7 L1204.1 325.9 L1210.4 320.2 L1216.7 314.6 L1223.0 309.0 L1229.4 303.5 L1235.7 298.1 L1242.0 292.8 L1248.3 287.5 L1254.6 282.3 L1260.9 277.2 L1267.2 272.1 L1273.5 267.1 L1279.8 262.2 L1286.1 257.4 L1292.4 252.6 L1298.7 247.9 L1305.0 243.3 L1311.3 238.8 L1317.7 234.3 L1324.0 229.9 L1330.3 225.5 L1336.6 221.3 L1342.9 217.1 L1349.2 213.0 L1355.5 209.0 L1361.8 205.0 L1368.1 201.1 L1374.4 197.3 L1380.7 193.5 L1387.0 189.8 L1393.3 186.2 L1399.6 182.7 L1405.9 179.2 L1412.3 175.8 L1418.6 172.5 L1424.9 169.3 L1431.2 166.1 L1437.5 163.0 L1443.8 160.0 L1450.1 157.0 L1456.4 154.1 L1462.7 151.3 L1469.0 148.6 L1475.3 145.9 L1481.6 143.3 L1487.9 140.8 L1494.2 138.3 L1500.6 135.9 L1506.9 133.6 L1513.2 131.4 L1519.5 129.2 L1525.8 127.1 L1532.1 125.1 L1538.4 123.1 L1544.7 121.2 L1551.0 119.4 L1557.3 117.7 L1563.6 116.0 L1569.9 114.4 L1576.2 112.8 L1582.5 111.4 L1588.8 110.0 L1595.2 108.7 L1601.5 107.4 L1607.8 106.3 L1614.1 105.1 L1620.4 104.1 L1626.7 103.1 L1633.0 102.3 L1639.3 101.4 L1645.6 100.7 L1651.9 100.0 L1658.2 99.4 L1664.5 98.8 L1670.8 98.4 L1677.1 98.0 L1683.5 97.6 L1689.8 97.4 L1696.1 97.2 L1702.4 97.0 L1708.7 97.0 L1715.0 97.0 L1721.3 97.1 L1727.6 97.2 L1733.9 97.5 L1740.2 97.8 L1746.5 98.1 L1752.8 98.6 L1759.1 99.1 L1765.4 99.6 L1771.8 100.3 L1778.1 101.0 L1784.4 101.7 L1790.7 102.6 L1797.0 103.5 L1803.3 104.5 L1809.6 105.5 L1815.9 106.6 L1822.2 107.8 L1828.5 109.1 L1834.8 110.4 L1841.1 111.8 L1847.4 113.3 L1853.7 114.8 L1860.0 116.4 L1866.4 118.0 L1872.7 119.8 L1879.0 121.6 L1885.3 123.4 L1891.6 125.4 L1897.9 127.4 L1904.2 129.4 L1910.5 131.6 L1916.8 133.8 L1923.1 136.0 L1929.4 138.4 L1935.7 140.8 L1942.0 143.2 L1948.3 145.8 L1954.7 148.4 L1961.0 151.0 L1967.3 153.8 L1973.6 156.6 L1979.9 159.4 L1986.2 162.3 L1992.5 165.3 L1998.8 168.4 L2005.1 171.5 L2011.4 174.7 L2017.7 178.0 L2024.0 181.3 L2030.3 184.7 L2036.6 188.2 L2042.9 191.7 L2049.3 195.3 L2055.6 198.9 L2061.9 202.6 L2068.2 206.4 L2074.5 210.3 L2080.8 214.2 L2087.1 218.2 L2093.4 222.2 L2099.7 226.3 L2106.0 230.5 L2112.3 234.7 L2118.6 239.0 L2124.9 243.4 L2131.2 247.8 L2137.6 252.3 L2143.9 256.9 L2150.2 261.5 L2156.5 266.2 L2162.8 270.9 L2169.1 275.7 L2175.4 280.6 L2181.7 285.5 L2188.0 290.5 L2194.3 295.6 L2200.6 300.7 L2206.9 305.9 L2213.2 311.2 L2219.5 316.5 L2225.9 321.9 L2232.2 327.3 L2238.5 332.8 L2244.8 338.4 L2251.1 344.0 L2257.4 349.7 L2263.7 355.4 L2270.0 361.3" fill="none" stroke="#ff62c4" stroke-width="5" stroke-linecap="butt"/>
<path d="M636.5 1126.8 L642.8 1114.8 L649.1 1103.0 L655.4 1091.1 L661.7 1079.4 L668.0 1067.7 L674.3 1056.1 L680.6 1044.5 L687.0 1033.0 L693.3 1021.6 L699.6 1010.2 L705.9 999.0 L712.2 987.8 L718.5 976.7 L724.8 965.6 L731.1 954.6 L737.4 943.7 L743.7 932.8 L750.0 922.1 L756.3 911.3 L762.6 900.7 L768.9 890.1 L775.3 879.6 L781.6 869.1 L787.9 858.7 L794.2 848.4 L800.5 838.1 L806.8 827.9 L813.1 817.8 L819.4 807.7 L825.7 797.8 L832.0 787.8 L838.3 778.0 L844.6 768.2 L850.9 758.5 L857.2 748.8 L863.6 739.2 L869.9 729.7 L876.2 720.3 L882.5 710.9 L888.8 701.6 L895.1 692.3 L901.4 683.2 L907.7 674.1 L914.0 665.1 L920.3 656.1 L926.6 647.2 L932.9 638.4 L939.2 629.7 L945.5 621.0 L951.8 612.4 L958.2 603.9 L964.5 595.4 L970.8 587.0 L977.1 578.7 L983.4 570.4 L989.7 562.2 L996.0 554.1 L1002.3 546.1 L1008.6 538.1 L1014.9 530.2 L1021.2 522.3 L1027.5 514.6 L1033.8 506.9 L1040.1 499.3 L1046.5 491.7 L1052.8 484.2 L1059.1 476.8 L1065.4 469.5 L1071.7 462.2 L1078.0 455.0 L1084.3 447.9 L1090.6 440.8 L1096.9 433.8 L1103.2 426.9 L1109.5 420.1 L1115.8 413.3 L1122.1 406.6 L1128.4 400.0 L1134.7 393.4 L1141.1 386.9 L1147.4 380.5 L1153.7 374.2 L1160.0 368.0 L1166.3 361.9 L1172.6 355.9 L1178.9 349.9 L1185.2 344.0 L1191.5 338.1 L1197.8 332.4 L1204.1 326.7 L1210.4 321.1 L1216.7 315.5 L1223.0 310.1 L1229.4 304.6 L1235.7 299.3 L1242.0 294.1 L1248.3 288.9 L1254.6 283.7 L1260.9 278.7 L1267.2 273.7 L1273.5 268.8 L1279.8 264.0 L1286.1 259.2 L1292.4 254.5 L1298.7 249.9 L1305.0 245.4 L1311.3 240.9 L1317.7 236.5 L1324.0 232.1 L1330.3 227.9 L1336.6 223.7 L1342.9 219.6 L1349.2 215.5 L1355.5 211.5 L1361.8 207.6 L1368.1 203.8 L1374.4 200.0 L1380.7 196.3 L1387.0 192.7 L1393.3 189.1 L1399.6 185.7 L1405.9 182.3 L1412.3 178.9 L1418.6 175.6 L1424.9 172.5 L1431.2 169.3 L1437.5 166.3 L1443.8 163.3 L1450.1 160.4 L1456.4 157.5 L1462.7 154.8 L1469.0 152.1 L1475.3 149.4 L1481.6 146.9 L1487.9 144.4 L1494.2 142.0 L1500.6 139.6 L1506.9 137.3 L1513.2 135.1 L1519.5 133.0 L1525.8 130.9 L1532.1 128.9 L1538.4 127.0 L1544.7 125.1 L1551.0 123.3 L1557.3 121.6 L1563.6 120.0 L1569.9 118.4 L1576.2 116.9 L1582.5 115.5 L1588.8 114.1 L1595.2 112.8 L1601.5 111.6 L1607.8 110.4 L1614.1 109.3 L1620.4 108.3 L1626.7 107.4 L1633.0 106.5 L1639.3 105.7 L1645.6 104.9 L1651.9 104.2 L1658.2 103.6 L1664.5 103.1 L1670.8 102.6 L1677.1 102.2 L1683.5 101.9 L1689.8 101.7 L1696.1 101.5 L1702.4 101.3 L1708.7 101.3 L1715.0 101.3 L1721.3 101.4 L1727.6 101.5 L1733.9 101.8 L1740.2 102.0 L1746.5 102.4 L1752.8 102.8 L1759.1 103.3 L1765.4 103.9 L1771.8 104.5 L1778.1 105.2 L1784.4 106.0 L1790.7 106.8 L1797.0 107.7 L1803.3 108.7 L1809.6 109.7 L1815.9 110.8 L1822.2 112.0 L1828.5 113.2 L1834.8 114.5 L1841.1 115.9 L1847.4 117.3 L1853.7 118.8 L1860.0 120.4 L1866.4 122.0 L1872.7 123.7 L1879.0 125.5 L1885.3 127.3 L1891.6 129.2 L1897.9 131.2 L1904.2 133.2 L1910.5 135.3 L1916.8 137.5 L1923.1 139.7 L1929.4 142.0 L1935.7 144.4 L1942.0 146.8 L1948.3 149.3 L1954.7 151.8 L1961.0 154.5 L1967.3 157.1 L1973.6 159.9 L1979.9 162.7 L1986.2 165.6 L1992.5 168.5 L1998.8 171.6 L2005.1 174.6 L2011.4 177.8 L2017.7 181.0 L2024.0 184.3 L2030.3 187.6 L2036.6 191.0 L2042.9 194.5 L2049.3 198.0 L2055.6 201.6 L2061.9 205.2 L2068.2 209.0 L2074.5 212.8 L2080.8 216.6 L2087.1 220.5 L2093.4 224.5 L2099.7 228.5 L2106.0 232.6 L2112.3 236.8 L2118.6 241.0 L2124.9 245.3 L2131.2 249.7 L2137.6 254.1 L2143.9 258.6 L2150.2 263.1 L2156.5 267.7 L2162.8 272.4 L2169.1 277.1 L2175.4 281.9 L2181.7 286.8 L2188.0 291.7 L2194.3 296.7 L2200.6 301.7 L2206.9 306.8 L2213.2 312.0 L2219.5 317.2 L2225.9 322.5 L2232.2 327.9 L2238.5 333.3 L2244.8 338.7 L2251.1 344.3 L2257.4 349.9 L2263.7 355.5 L2270.0 361.3" fill="none" stroke="#c48cc0" stroke-width="5" stroke-linecap="butt"/>
<path d="M636.5 1139.5 L642.8 1127.2 L649.1 1115.1 L655.4 1103.0 L661.7 1090.9 L668.0 1078.9 L674.3 1067.0 L680.6 1055.1 L687.0 1043.3 L693.3 1031.6 L699.6 1019.9 L705.9 1008.5 L712.2 997.2 L718.5 985.9 L724.8 974.7 L731.1 963.5 L737.4 952.4 L743.7 941.4 L750.0 930.5 L756.3 919.6 L762.6 908.8 L768.9 898.0 L775.3 887.3 L781.6 876.7 L787.9 866.1 L794.2 855.6 L800.5 845.2 L806.8 834.9 L813.1 824.6 L819.4 814.4 L825.7 804.3 L832.0 794.2 L838.3 784.2 L844.6 774.2 L850.9 764.4 L857.2 754.5 L863.6 744.8 L869.9 735.1 L876.2 725.5 L882.5 716.0 L888.8 706.5 L895.1 697.1 L901.4 687.8 L907.7 678.6 L914.0 669.5 L920.3 660.4 L926.6 651.4 L932.9 642.5 L939.2 633.6 L945.5 624.8 L951.8 616.1 L958.2 607.5 L964.5 598.9 L970.8 590.4 L977.1 581.9 L983.4 573.5 L989.7 565.2 L996.0 557.0 L1002.3 548.8 L1008.6 540.7 L1014.9 532.7 L1021.2 524.8 L1027.5 516.9 L1033.8 509.1 L1040.1 501.3 L1046.5 493.7 L1052.8 486.1 L1059.1 478.5 L1065.4 471.1 L1071.7 463.7 L1078.0 456.4 L1084.3 449.1 L1090.6 441.9 L1096.9 434.8 L1103.2 427.8 L1109.5 420.8 L1115.8 413.9 L1122.1 407.1 L1128.4 400.4 L1134.7 393.7 L1141.1 387.1 L1147.4 380.5 L1153.7 374.1 L1160.0 367.7 L1166.3 361.4 L1172.6 355.2 L1178.9 349.0 L1185.2 342.9 L1191.5 336.9 L1197.8 330.9 L1204.1 325.1 L1210.4 319.3 L1216.7 313.6 L1223.0 307.9 L1229.4 302.3 L1235.7 296.8 L1242.0 291.4 L1248.3 286.0 L1254.6 280.8 L1260.9 275.6 L1267.2 270.4 L1273.5 265.4 L1279.8 260.4 L1286.1 255.5 L1292.4 250.6 L1298.7 245.8 L1305.0 241.2 L1311.3 236.5 L1317.7 232.0 L1324.0 227.5 L1330.3 223.1 L1336.6 218.8 L1342.9 214.5 L1349.2 210.4 L1355.5 206.3 L1361.8 202.2 L1368.1 198.3 L1374.4 194.4 L1380.7 190.6 L1387.0 186.8 L1393.3 183.2 L1399.6 179.6 L1405.9 176.1 L1412.3 172.6 L1418.6 169.2 L1424.9 165.9 L1431.2 162.7 L1437.5 159.6 L1443.8 156.5 L1450.1 153.5 L1456.4 150.5 L1462.7 147.7 L1469.0 144.9 L1475.3 142.2 L1481.6 139.5 L1487.9 137.0 L1494.2 134.5 L1500.6 132.0 L1506.9 129.7 L1513.2 127.4 L1519.5 125.2 L1525.8 123.1 L1532.1 121.0 L1538.4 119.0 L1544.7 117.1 L1551.0 115.3 L1557.3 113.5 L1563.6 111.8 L1569.9 110.2 L1576.2 108.6 L1582.5 107.1 L1588.8 105.7 L1595.2 104.4 L1601.5 103.1 L1607.8 101.9 L1614.1 100.8 L1620.4 99.7 L1626.7 98.7 L1633.0 97.8 L1639.3 97.0 L1645.6 96.2 L1651.9 95.5 L1658.2 94.9 L1664.5 94.4 L1670.8 93.9 L1677.1 93.5 L1683.5 93.1 L1689.8 92.9 L1696.1 92.7 L1702.4 92.5 L1708.7 92.5 L1715.0 92.5 L1721.3 92.6 L1727.6 92.7 L1733.9 93.0 L1740.2 93.3 L1746.5 93.6 L1752.8 94.1 L1759.1 94.6 L1765.4 95.2 L1771.8 95.8 L1778.1 96.5 L1784.4 97.3 L1790.7 98.2 L1797.0 99.1 L1803.3 100.1 L1809.6 101.2 L1815.9 102.3 L1822.2 103.5 L1828.5 104.8 L1834.8 106.1 L1841.1 107.5 L1847.4 109.0 L1853.7 110.6 L1860.0 112.2 L1866.4 113.9 L1872.7 115.6 L1879.0 117.5 L1885.3 119.4 L1891.6 121.3 L1897.9 123.4 L1904.2 125.5 L1910.5 127.6 L1916.8 129.9 L1923.1 132.2 L1929.4 134.5 L1935.7 137.0 L1942.0 139.5 L1948.3 142.1 L1954.7 144.7 L1961.0 147.4 L1967.3 150.2 L1973.6 153.0 L1979.9 156.0 L1986.2 158.9 L1992.5 162.0 L1998.8 165.1 L2005.1 168.3 L2011.4 171.5 L2017.7 174.8 L2024.0 178.2 L2030.3 181.7 L2036.6 185.2 L2042.9 188.8 L2049.3 192.4 L2055.6 196.1 L2061.9 199.9 L2068.2 203.8 L2074.5 207.7 L2080.8 211.7 L2087.1 215.7 L2093.4 219.8 L2099.7 224.0 L2106.0 228.2 L2112.3 232.5 L2118.6 236.9 L2124.9 241.3 L2131.2 245.9 L2137.6 250.4 L2143.9 255.1 L2150.2 259.8 L2156.5 264.5 L2162.8 269.3 L2169.1 274.2 L2175.4 279.2 L2181.7 284.2 L2188.0 289.3 L2194.3 294.5 L2200.6 299.7 L2206.9 304.9 L2213.2 310.3 L2219.5 315.7 L2225.9 321.2 L2232.2 326.7 L2238.5 332.3 L2244.8 338.0 L2251.1 343.7 L2257.4 349.5 L2263.7 355.3 L2270.0 361.3" fill="none" stroke="#ff7a8c" stroke-width="5" stroke-linecap="butt"/>
<path d="M636.5 1120.5 L642.8 1108.7 L649.1 1097.0 L655.4 1085.3 L661.7 1073.7 L668.0 1062.2 L674.3 1050.7 L680.6 1039.3 L687.0 1027.9 L693.3 1016.6 L699.6 1005.4 L705.9 994.2 L712.2 983.1 L718.5 972.1 L724.8 961.1 L731.1 950.2 L737.4 939.4 L743.7 928.6 L750.0 917.9 L756.3 907.3 L762.6 896.7 L768.9 886.2 L775.3 875.7 L781.6 865.4 L787.9 855.0 L794.2 844.8 L800.5 834.6 L806.8 824.5 L813.1 814.4 L819.4 804.5 L825.7 794.6 L832.0 784.7 L838.3 774.9 L844.6 765.2 L850.9 755.6 L857.2 746.0 L863.6 736.5 L869.9 727.0 L876.2 717.7 L882.5 708.4 L888.8 699.1 L895.1 690.0 L901.4 680.9 L907.7 671.8 L914.0 662.9 L920.3 654.0 L926.6 645.2 L932.9 636.4 L939.2 627.7 L945.5 619.1 L951.8 610.6 L958.2 602.1 L964.5 593.7 L970.8 585.3 L977.1 577.1 L983.4 568.9 L989.7 560.7 L996.0 552.7 L1002.3 544.7 L1008.6 536.8 L1014.9 528.9 L1021.2 521.2 L1027.5 513.5 L1033.8 505.8 L1040.1 498.3 L1046.5 490.8 L1052.8 483.3 L1059.1 476.0 L1065.4 468.7 L1071.7 461.5 L1078.0 454.3 L1084.3 447.3 L1090.6 440.3 L1096.9 433.3 L1103.2 426.5 L1109.5 419.7 L1115.8 413.0 L1122.1 406.3 L1128.4 399.8 L1134.7 393.3 L1141.1 386.8 L1147.4 380.5 L1153.7 374.3 L1160.0 368.2 L1166.3 362.1 L1172.6 356.2 L1178.9 350.3 L1185.2 344.5 L1191.5 338.7 L1197.8 333.1 L1204.1 327.5 L1210.4 321.9 L1216.7 316.5 L1223.0 311.1 L1229.4 305.8 L1235.7 300.5 L1242.0 295.3 L1248.3 290.2 L1254.6 285.2 L1260.9 280.2 L1267.2 275.3 L1273.5 270.5 L1279.8 265.7 L1286.1 261.0 L1292.4 256.4 L1298.7 251.8 L1305.0 247.4 L1311.3 242.9 L1317.7 238.6 L1324.0 234.3 L1330.3 230.1 L1336.6 226.0 L1342.9 222.0 L1349.2 218.0 L1355.5 214.0 L1361.8 210.2 L1368.1 206.4 L1374.4 202.7 L1380.7 199.1 L1387.0 195.5 L1393.3 192.0 L1399.6 188.6 L1405.9 185.2 L1412.3 181.9 L1418.6 178.7 L1424.9 175.6 L1431.2 172.5 L1437.5 169.5 L1443.8 166.5 L1450.1 163.7 L1456.4 160.9 L1462.7 158.1 L1469.0 155.5 L1475.3 152.9 L1481.6 150.4 L1487.9 147.9 L1494.2 145.5 L1500.6 143.2 L1506.9 141.0 L1513.2 138.8 L1519.5 136.7 L1525.8 134.7 L1532.1 132.7 L1538.4 130.8 L1544.7 129.0 L1551.0 127.2 L1557.3 125.5 L1563.6 123.9 L1569.9 122.3 L1576.2 120.9 L1582.5 119.4 L1588.8 118.1 L1595.2 116.8 L1601.5 115.6 L1607.8 114.5 L1614.1 113.4 L1620.4 112.4 L1626.7 111.5 L1633.0 110.6 L1639.3 109.8 L1645.6 109.1 L1651.9 108.4 L1658.2 107.8 L1664.5 107.3 L1670.8 106.8 L1677.1 106.4 L1683.5 106.1 L1689.8 105.9 L1696.1 105.7 L1702.4 105.5 L1708.7 105.5 L1715.0 105.5 L1721.3 105.6 L1727.6 105.7 L1733.9 106.0 L1740.2 106.2 L1746.5 106.6 L1752.8 107.0 L1759.1 107.5 L1765.4 108.0 L1771.8 108.7 L1778.1 109.3 L1784.4 110.1 L1790.7 110.9 L1797.0 111.8 L1803.3 112.7 L1809.6 113.8 L1815.9 114.8 L1822.2 116.0 L1828.5 117.2 L1834.8 118.5 L1841.1 119.8 L1847.4 121.2 L1853.7 122.7 L1860.0 124.3 L1866.4 125.9 L1872.7 127.5 L1879.0 129.3 L1885.3 131.1 L1891.6 133.0 L1897.9 134.9 L1904.2 136.9 L1910.5 139.0 L1916.8 141.1 L1923.1 143.3 L1929.4 145.5 L1935.7 147.9 L1942.0 150.3 L1948.3 152.7 L1954.7 155.2 L1961.0 157.8 L1967.3 160.5 L1973.6 163.2 L1979.9 165.9 L1986.2 168.8 L1992.5 171.7 L1998.8 174.6 L2005.1 177.7 L2011.4 180.8 L2017.7 183.9 L2024.0 187.1 L2030.3 190.4 L2036.6 193.8 L2042.9 197.2 L2049.3 200.7 L2055.6 204.2 L2061.9 207.8 L2068.2 211.4 L2074.5 215.2 L2080.8 219.0 L2087.1 222.8 L2093.4 226.7 L2099.7 230.7 L2106.0 234.7 L2112.3 238.8 L2118.6 243.0 L2124.9 247.2 L2131.2 251.5 L2137.6 255.8 L2143.9 260.2 L2150.2 264.7 L2156.5 269.3 L2162.8 273.8 L2169.1 278.5 L2175.4 283.2 L2181.7 288.0 L2188.0 292.8 L2194.3 297.7 L2200.6 302.7 L2206.9 307.7 L2213.2 312.8 L2219.5 317.9 L2225.9 323.1 L2232.2 328.4 L2238.5 333.7 L2244.8 339.1 L2251.1 344.6 L2257.4 350.1 L2263.7 355.6 L2270.0 361.3" fill="none" stroke="#f545f0" stroke-width="5" stroke-linecap="butt"/>
<path d="M1330.0 230.3 L1333.1 228.3 L1336.1 226.3 L1339.2 224.3 L1342.2 222.4 L1345.3 220.4 L1348.3 218.5 L1351.4 216.6 L1354.4 214.7 L1357.5 212.8 L1360.5 211.0 L1363.6 209.1 L1366.6 207.3 L1369.7 205.5 L1372.7 203.7 L1375.8 201.9 L1378.8 200.2 L1381.9 198.4 L1384.9 196.7 L1388.0 195.0 L1391.0 193.3 L1394.1 191.6 L1397.1 189.9 L1400.2 188.3 L1403.2 186.7 L1406.3 185.1 L1409.3 183.5 L1412.4 181.9 L1415.4 180.3 L1418.5 178.8 L1421.5 177.2 L1424.6 175.7 L1427.6 174.2 L1430.7 172.7 L1433.7 171.3 L1436.8 169.8 L1439.8 168.4 L1442.9 167.0 L1445.9 165.6 L1449.0 164.2 L1452.0 162.8 L1455.1 161.5 L1458.1 160.1 L1461.2 158.8 L1464.2 157.5 L1467.3 156.2 L1470.3 154.9 L1473.4 153.7 L1476.4 152.4 L1479.5 151.2 L1482.5 150.0 L1485.6 148.8 L1488.6 147.7 L1491.7 146.5 L1494.7 145.4 L1497.8 144.2 L1500.8 143.1 L1503.9 142.0 L1506.9 141.0 L1510.0 139.9 L1513.0 138.9 L1516.1 137.8 L1519.1 136.8 L1522.2 135.8 L1525.2 134.8 L1528.3 133.9 L1531.3 132.9 L1534.4 132.0 L1537.4 131.1 L1540.5 130.2 L1543.5 129.3 L1546.6 128.4 L1549.6 127.6 L1552.7 126.8 L1555.7 125.9 L1558.8 125.1 L1561.8 124.4 L1564.9 123.6 L1567.9 122.8 L1571.0 122.1 L1574.0 121.4 L1577.1 120.7 L1580.1 120.0 L1583.2 119.3 L1586.2 118.7 L1589.3 118.0 L1592.3 117.4 L1595.4 116.8 L1598.4 116.2 L1601.5 115.6 L1604.5 115.1 L1607.6 114.5 L1610.6 114.0 L1613.7 113.5 L1616.7 113.0 L1619.8 112.5 L1622.8 112.0 L1625.9 111.6 L1628.9 111.1 L1632.0 110.7 L1635.0 110.3 L1638.1 109.9 L1641.1 109.6 L1644.2 109.2 L1647.2 108.9 L1650.3 108.6 L1653.3 108.3 L1656.4 108.0 L1659.4 107.7 L1662.5 107.4 L1665.5 107.2 L1668.6 107.0 L1671.6 106.8 L1674.7 106.6 L1677.7 106.4 L1680.8 106.2 L1683.8 106.1 L1686.9 106.0 L1689.9 105.8 L1693.0 105.7 L1696.0 105.7 L1699.1 105.6 L1702.1 105.5 L1705.2 105.5 L1708.2 105.5 L1711.3 105.5 L1714.3 105.5 L1717.4 105.5 L1720.4 105.6 L1723.5 105.6 L1726.5 105.7 L1729.6 105.8 L1732.6 105.9 L1735.7 106.0 L1738.7 106.2 L1741.8 106.3 L1744.8 106.5 L1747.9 106.7 L1750.9 106.9 L1754.0 107.1 L1757.0 107.3 L1760.1 107.6 L1763.1 107.8 L1766.2 108.1 L1769.2 108.4 L1772.3 108.7 L1775.3 109.0 L1778.4 109.4 L1781.4 109.7 L1784.5 110.1 L1787.5 110.5 L1790.6 110.9 L1793.6 111.3 L1796.7 111.7 L1799.7 112.2 L1802.8 112.7 L1805.8 113.1 L1808.9 113.6 L1811.9 114.2 L1815.0 114.7 L1818.0 115.2 L1821.1 115.8 L1824.1 116.4 L1827.2 116.9 L1830.2 117.5 L1833.3 118.2 L1836.3 118.8 L1839.4 119.4 L1842.4 120.1 L1845.5 120.8 L1848.5 121.5 L1851.6 122.2 L1854.6 122.9 L1857.7 123.7 L1860.7 124.4 L1863.8 125.2 L1866.8 126.0 L1869.9 126.8 L1872.9 127.6 L1876.0 128.5 L1879.0 129.3 L1882.1 130.2 L1885.1 131.0 L1888.2 131.9 L1891.2 132.9 L1894.3 133.8 L1897.3 134.7 L1900.4 135.7 L1903.4 136.7 L1906.5 137.6 L1909.5 138.6 L1912.6 139.7 L1915.6 140.7 L1918.7 141.7 L1921.7 142.8 L1924.8 143.9 L1927.8 145.0 L1930.9 146.1 L1933.9 147.2 L1937.0 148.3 L1940.0 149.5 L1943.1 150.7 L1946.1 151.8 L1949.2 153.0 L1952.2 154.3 L1955.3 155.5 L1958.3 156.7 L1961.4 158.0 L1964.4 159.3 L1967.5 160.6 L1970.5 161.9 L1973.6 163.2 L1976.6 164.5 L1979.7 165.9 L1982.7 167.2 L1985.8 168.6 L1988.8 170.0 L1991.9 171.4 L1994.9 172.8 L1998.0 174.3 L2001.0 175.7 L2004.1 177.2 L2007.1 178.7 L2010.2 180.2 L2013.2 181.7 L2016.3 183.2 L2019.3 184.7 L2022.4 186.3 L2025.4 187.9 L2028.5 189.5 L2031.5 191.1 L2034.6 192.7 L2037.6 194.3 L2040.7 196.0 L2043.7 197.6 L2046.8 199.3 L2049.8 201.0 L2052.9 202.7 L2055.9 204.4 L2059.0 206.1 L2062.0 207.9 L2065.1 209.7 L2068.1 211.4 L2071.2 213.2 L2074.2 215.0 L2077.3 216.9 L2080.3 218.7 L2083.4 220.5 L2086.4 222.4 L2089.5 224.3 L2092.5 226.2 L2095.6 228.1 L2098.6 230.0 L2101.7 232.0 L2104.7 233.9 L2107.8 235.9 L2110.8 237.9 L2113.9 239.9 L2116.9 241.9 L2120.0 243.9" fill="none" stroke="#a68aa6" stroke-width="5" stroke-linecap="butt"/>
<path d="M1260.0 280.9 L1260.3 280.7 L1260.5 280.5 L1260.8 280.3 L1261.1 280.0 L1261.4 279.8 L1261.6 279.6 L1261.9 279.4 L1262.2 279.2 L1262.4 279.0 L1262.7 278.8 L1263.0 278.6 L1263.2 278.4 L1263.5 278.1 L1263.8 277.9 L1264.1 277.7 L1264.3 277.5 L1264.6 277.3 L1264.9 277.1 L1265.1 276.9 L1265.4 276.7 L1265.7 276.5 L1265.9 276.3 L1266.2 276.0 L1266.5 275.8 L1266.8 275.6 L1267.0 275.4 L1267.3 275.2 L1267.6 275.0 L1267.8 274.8 L1268.1 274.6 L1268.4 274.4 L1268.6 274.2 L1268.9 274.0 L1269.2 273.8 L1269.5 273.5 L1269.7 273.3 L1270.0 273.1 L1270.3 272.9 L1270.5 272.7 L1270.8 272.5 L1271.1 272.3 L1271.4 272.1 L1271.6 271.9 L1271.9 271.7 L1272.2 271.5 L1272.4 271.3 L1272.7 271.1 L1273.0 270.9 L1273.2 270.7 L1273.5 270.4 L1273.8 270.2 L1274.1 270.0 L1274.3 269.8 L1274.6 269.6 L1274.9 269.4 L1275.1 269.2 L1275.4 269.0 L1275.7 268.8 L1275.9 268.6 L1276.2 268.4 L1276.5 268.2 L1276.8 268.0 L1277.0 267.8 L1277.3 267.6 L1277.6 267.4 L1277.8 267.2 L1278.1 267.0 L1278.4 266.8 L1278.6 266.6 L1278.9 266.4 L1279.2 266.2 L1279.5 266.0 L1279.7 265.8 L1280.0 265.6 L1280.3 265.4 L1280.5 265.1 L1280.8 264.9 L1281.1 264.7 L1281.4 264.5 L1281.6 264.3 L1281.9 264.1 L1282.2 263.9 L1282.4 263.7 L1282.7 263.5 L1283.0 263.3 L1283.2 263.1 L1283.5 262.9 L1283.8 262.7 L1284.1 262.5 L1284.3 262.3 L1284.6 262.1 L1284.9 261.9 L1285.1 261.7 L1285.4 261.5 L1285.7 261.3 L1285.9 261.1 L1286.2 260.9 L1286.5 260.7 L1286.8 260.5 L1287.0 260.3 L1287.3 260.1 L1287.6 259.9 L1287.8 259.7 L1288.1 259.5 L1288.4 259.3 L1288.6 259.1 L1288.9 258.9 L1289.2 258.7 L1289.5 258.5 L1289.7 258.4 L1290.0 258.2 L1290.3 258.0 L1290.5 257.8 L1290.8 257.6 L1291.1 257.4 L1291.4 257.2 L1291.6 257.0 L1291.9 256.8 L1292.2 256.6 L1292.4 256.4 L1292.7 256.2 L1293.0 256.0 L1293.2 255.8 L1293.5 255.6 L1293.8 255.4 L1294.1 255.2 L1294.3 255.0 L1294.6 254.8 L1294.9 254.6 L1295.1 254.4 L1295.4 254.2 L1295.7 254.0 L1295.9 253.8 L1296.2 253.6 L1296.5 253.4 L1296.8 253.3 L1297.0 253.1 L1297.3 252.9 L1297.6 252.7 L1297.8 252.5 L1298.1 252.3 L1298.4 252.1 L1298.6 251.9 L1298.9 251.7 L1299.2 251.5 L1299.5 251.3 L1299.7 251.1 L1300.0 250.9 L1300.3 250.7 L1300.5 250.5 L1300.8 250.4 L1301.1 250.2 L1301.4 250.0 L1301.6 249.8 L1301.9 249.6 L1302.2 249.4 L1302.4 249.2 L1302.7 249.0 L1303.0 248.8 L1303.2 248.6 L1303.5 248.4 L1303.8 248.2 L1304.1 248.0 L1304.3 247.9 L1304.6 247.7 L1304.9 247.5 L1305.1 247.3 L1305.4 247.1 L1305.7 246.9 L1305.9 246.7 L1306.2 246.5 L1306.5 246.3 L1306.8 246.1 L1307.0 246.0 L1307.3 245.8 L1307.6 245.6 L1307.8 245.4 L1308.1 245.2 L1308.4 245.0 L1308.6 244.8 L1308.9 244.6 L1309.2 244.4 L1309.5 244.3 L1309.7 244.1 L1310.0 243.9 L1310.3 243.7 L1310.5 243.5 L1310.8 243.3 L1311.1 243.1 L1311.4 242.9 L1311.6 242.8 L1311.9 242.6 L1312.2 242.4 L1312.4 242.2 L1312.7 242.0 L1313.0 241.8 L1313.2 241.6 L1313.5 241.4 L1313.8 241.3 L1314.1 241.1 L1314.3 240.9 L1314.6 240.7 L1314.9 240.5 L1315.1 240.3 L1315.4 240.1 L1315.7 240.0 L1315.9 239.8 L1316.2 239.6 L1316.5 239.4 L1316.8 239.2 L1317.0 239.0 L1317.3 238.8 L1317.6 238.7 L1317.8 238.5 L1318.1 238.3 L1318.4 238.1 L1318.6 237.9 L1318.9 237.7 L1319.2 237.6 L1319.5 237.4 L1319.7 237.2 L1320.0 237.0 L1320.3 236.8 L1320.5 236.6 L1320.8 236.5 L1321.1 236.3 L1321.4 236.1 L1321.6 235.9 L1321.9 235.7 L1322.2 235.5 L1322.4 235.4 L1322.7 235.2 L1323.0 235.0 L1323.2 234.8 L1323.5 234.6 L1323.8 234.5 L1324.1 234.3 L1324.3 234.1 L1324.6 233.9 L1324.9 233.7 L1325.1 233.5 L1325.4 233.4 L1325.7 233.2 L1325.9 233.0 L1326.2 232.8 L1326.5 232.6 L1326.8 232.5 L1327.0 232.3 L1327.3 232.1 L1327.6 231.9 L1327.8 231.7 L1328.1 231.6 L1328.4 231.4 L1328.6 231.2 L1328.9 231.0 L1329.2 230.8 L1329.5 230.7 L1329.7 230.5 L1330.0 230.3" fill="none" stroke="#cc68cb" stroke-width="5" stroke-linecap="butt"/>
<path d="M2120.0 243.9 L2120.2 244.1 L2120.5 244.2 L2120.7 244.4 L2120.9 244.5 L2121.2 244.7 L2121.4 244.8 L2121.6 245.0 L2121.9 245.1 L2122.1 245.3 L2122.3 245.4 L2122.5 245.6 L2122.8 245.8 L2123.0 245.9 L2123.2 246.1 L2123.5 246.2 L2123.7 246.4 L2123.9 246.5 L2124.2 246.7 L2124.4 246.8 L2124.6 247.0 L2124.9 247.2 L2125.1 247.3 L2125.3 247.5 L2125.6 247.6 L2125.8 247.8 L2126.0 247.9 L2126.3 248.1 L2126.5 248.3 L2126.7 248.4 L2126.9 248.6 L2127.2 248.7 L2127.4 248.9 L2127.6 249.0 L2127.9 249.2 L2128.1 249.4 L2128.3 249.5 L2128.6 249.7 L2128.8 249.8 L2129.0 250.0 L2129.3 250.1 L2129.5 250.3 L2129.7 250.5 L2130.0 250.6 L2130.2 250.8 L2130.4 250.9 L2130.7 251.1 L2130.9 251.2 L2131.1 251.4 L2131.4 251.6 L2131.6 251.7 L2131.8 251.9 L2132.0 252.0 L2132.3 252.2 L2132.5 252.4 L2132.7 252.5 L2133.0 252.7 L2133.2 252.8 L2133.4 253.0 L2133.7 253.2 L2133.9 253.3 L2134.1 253.5 L2134.4 253.6 L2134.6 253.8 L2134.8 254.0 L2135.1 254.1 L2135.3 254.3 L2135.5 254.4 L2135.8 254.6 L2136.0 254.8 L2136.2 254.9 L2136.4 255.1 L2136.7 255.2 L2136.9 255.4 L2137.1 255.6 L2137.4 255.7 L2137.6 255.9 L2137.8 256.0 L2138.1 256.2 L2138.3 256.4 L2138.5 256.5 L2138.8 256.7 L2139.0 256.8 L2139.2 257.0 L2139.5 257.2 L2139.7 257.3 L2139.9 257.5 L2140.2 257.7 L2140.4 257.8 L2140.6 258.0 L2140.8 258.1 L2141.1 258.3 L2141.3 258.5 L2141.5 258.6 L2141.8 258.8 L2142.0 258.9 L2142.2 259.1 L2142.5 259.3 L2142.7 259.4 L2142.9 259.6 L2143.2 259.8 L2143.4 259.9 L2143.6 260.1 L2143.9 260.2 L2144.1 260.4 L2144.3 260.6 L2144.6 260.7 L2144.8 260.9 L2145.0 261.1 L2145.3 261.2 L2145.5 261.4 L2145.7 261.6 L2145.9 261.7 L2146.2 261.9 L2146.4 262.0 L2146.6 262.2 L2146.9 262.4 L2147.1 262.5 L2147.3 262.7 L2147.6 262.9 L2147.8 263.0 L2148.0 263.2 L2148.3 263.4 L2148.5 263.5 L2148.7 263.7 L2149.0 263.9 L2149.2 264.0 L2149.4 264.2 L2149.7 264.4 L2149.9 264.5 L2150.1 264.7 L2150.3 264.8 L2150.6 265.0 L2150.8 265.2 L2151.0 265.3 L2151.3 265.5 L2151.5 265.7 L2151.7 265.8 L2152.0 266.0 L2152.2 266.2 L2152.4 266.3 L2152.7 266.5 L2152.9 266.7 L2153.1 266.8 L2153.4 267.0 L2153.6 267.2 L2153.8 267.3 L2154.1 267.5 L2154.3 267.7 L2154.5 267.8 L2154.7 268.0 L2155.0 268.2 L2155.2 268.3 L2155.4 268.5 L2155.7 268.7 L2155.9 268.8 L2156.1 269.0 L2156.4 269.2 L2156.6 269.3 L2156.8 269.5 L2157.1 269.7 L2157.3 269.8 L2157.5 270.0 L2157.8 270.2 L2158.0 270.4 L2158.2 270.5 L2158.5 270.7 L2158.7 270.9 L2158.9 271.0 L2159.2 271.2 L2159.4 271.4 L2159.6 271.5 L2159.8 271.7 L2160.1 271.9 L2160.3 272.0 L2160.5 272.2 L2160.8 272.4 L2161.0 272.5 L2161.2 272.7 L2161.5 272.9 L2161.7 273.1 L2161.9 273.2 L2162.2 273.4 L2162.4 273.6 L2162.6 273.7 L2162.9 273.9 L2163.1 274.1 L2163.3 274.2 L2163.6 274.4 L2163.8 274.6 L2164.0 274.7 L2164.2 274.9 L2164.5 275.1 L2164.7 275.3 L2164.9 275.4 L2165.2 275.6 L2165.4 275.8 L2165.6 275.9 L2165.9 276.1 L2166.1 276.3 L2166.3 276.5 L2166.6 276.6 L2166.8 276.8 L2167.0 277.0 L2167.3 277.1 L2167.5 277.3 L2167.7 277.5 L2168.0 277.7 L2168.2 277.8 L2168.4 278.0 L2168.6 278.2 L2168.9 278.3 L2169.1 278.5 L2169.3 278.7 L2169.6 278.9 L2169.8 279.0 L2170.0 279.2 L2170.3 279.4 L2170.5 279.6 L2170.7 279.7 L2171.0 279.9 L2171.2 280.1 L2171.4 280.2 L2171.7 280.4 L2171.9 280.6 L2172.1 280.8 L2172.4 280.9 L2172.6 281.1 L2172.8 281.3 L2173.1 281.5 L2173.3 281.6 L2173.5 281.8 L2173.7 282.0 L2174.0 282.1 L2174.2 282.3 L2174.4 282.5 L2174.7 282.7 L2174.9 282.8 L2175.1 283.0 L2175.4 283.2 L2175.6 283.4 L2175.8 283.5 L2176.1 283.7 L2176.3 283.9 L2176.5 284.1 L2176.8 284.2 L2177.0 284.4 L2177.2 284.6 L2177.5 284.8 L2177.7 284.9 L2177.9 285.1 L2178.1 285.3 L2178.4 285.5 L2178.6 285.6 L2178.8 285.8 L2179.1 286.0 L2179.3 286.2 L2179.5 286.3 L2179.8 286.5 L2180.0 286.7" fill="none" stroke="#cc68cb" stroke-width="5" stroke-linecap="butt"/>
<path d="M1150.0 377.8 L1154.3 373.7 L1158.6 369.5 L1163.0 365.5 L1167.3 361.4 L1171.6 357.4 L1175.9 353.4 L1180.3 349.4 L1184.6 345.5 L1188.9 341.6 L1193.2 337.7 L1197.6 333.9 L1201.9 330.1 L1206.2 326.3 L1210.5 322.6 L1214.9 318.8 L1219.2 315.2 L1223.5 311.5 L1227.8 307.9 L1232.2 304.4 L1236.5 300.8 L1240.8 297.3 L1245.1 293.8 L1249.5 290.4 L1253.8 287.0 L1258.1 283.6 L1262.4 280.2 L1266.8 276.9 L1271.1 273.7 L1275.4 270.4 L1279.7 267.2 L1284.1 264.0 L1288.4 260.9 L1292.7 257.7 L1297.0 254.7 L1301.4 251.6 L1305.7 248.6 L1310.0 245.6 L1314.3 242.6 L1318.6 239.7 L1323.0 236.8 L1327.3 234.0 L1331.6 231.1 L1335.9 228.4 L1340.3 225.6 L1344.6 222.9 L1348.9 220.2 L1353.2 217.5 L1357.6 214.9 L1361.9 212.3 L1366.2 209.7 L1370.5 207.2 L1374.9 204.7 L1379.2 202.2 L1383.5 199.8 L1387.8 197.4 L1392.2 195.0 L1396.5 192.7 L1400.8 190.4 L1405.1 188.1 L1409.5 185.9 L1413.8 183.7 L1418.1 181.5 L1422.4 179.3 L1426.8 177.2 L1431.1 175.2 L1435.4 173.1 L1439.7 171.1 L1444.1 169.1 L1448.4 167.2 L1452.7 165.3 L1457.0 163.4 L1461.4 161.5 L1465.7 159.7 L1470.0 157.9 L1474.3 156.2 L1478.6 154.5 L1483.0 152.8 L1487.3 151.1 L1491.6 149.5 L1495.9 147.9 L1500.3 146.3 L1504.6 144.8 L1508.9 143.3 L1513.2 141.8 L1517.6 140.4 L1521.9 139.0 L1526.2 137.6 L1530.5 136.3 L1534.9 135.0 L1539.2 133.7 L1543.5 132.5 L1547.8 131.3 L1552.2 130.1 L1556.5 129.0 L1560.8 127.9 L1565.1 126.8 L1569.5 125.7 L1573.8 124.7 L1578.1 123.7 L1582.4 122.8 L1586.8 121.9 L1591.1 121.0 L1595.4 120.1 L1599.7 119.3 L1604.1 118.5 L1608.4 117.8 L1612.7 117.0 L1617.0 116.3 L1621.4 115.7 L1625.7 115.0 L1630.0 114.4 L1634.3 113.9 L1638.6 113.3 L1643.0 112.8 L1647.3 112.3 L1651.6 111.9 L1655.9 111.5 L1660.3 111.1 L1664.6 110.8 L1668.9 110.4 L1673.2 110.1 L1677.6 109.9 L1681.9 109.7 L1686.2 109.5 L1690.5 109.3 L1694.9 109.2 L1699.2 109.1 L1703.5 109.0 L1707.8 109.0 L1712.2 109.0 L1716.5 109.0 L1720.8 109.1 L1725.1 109.2 L1729.5 109.3 L1733.8 109.4 L1738.1 109.6 L1742.4 109.8 L1746.8 110.1 L1751.1 110.4 L1755.4 110.7 L1759.7 111.0 L1764.1 111.4 L1768.4 111.8 L1772.7 112.2 L1777.0 112.7 L1781.4 113.2 L1785.7 113.7 L1790.0 114.2 L1794.3 114.8 L1798.6 115.4 L1803.0 116.1 L1807.3 116.8 L1811.6 117.5 L1815.9 118.2 L1820.3 119.0 L1824.6 119.8 L1828.9 120.6 L1833.2 121.5 L1837.6 122.4 L1841.9 123.3 L1846.2 124.3 L1850.5 125.2 L1854.9 126.3 L1859.2 127.3 L1863.5 128.4 L1867.8 129.5 L1872.2 130.6 L1876.5 131.8 L1880.8 133.0 L1885.1 134.2 L1889.5 135.5 L1893.8 136.8 L1898.1 138.1 L1902.4 139.4 L1906.8 140.8 L1911.1 142.2 L1915.4 143.6 L1919.7 145.1 L1924.1 146.6 L1928.4 148.1 L1932.7 149.7 L1937.0 151.3 L1941.4 152.9 L1945.7 154.5 L1950.0 156.2 L1954.3 157.9 L1958.6 159.7 L1963.0 161.4 L1967.3 163.2 L1971.6 165.1 L1975.9 166.9 L1980.3 168.8 L1984.6 170.7 L1988.9 172.7 L1993.2 174.6 L1997.6 176.6 L2001.9 178.7 L2006.2 180.7 L2010.5 182.8 L2014.9 184.9 L2019.2 187.1 L2023.5 189.3 L2027.8 191.5 L2032.2 193.7 L2036.5 196.0 L2040.8 198.3 L2045.1 200.6 L2049.5 203.0 L2053.8 205.4 L2058.1 207.8 L2062.4 210.2 L2066.8 212.7 L2071.1 215.2 L2075.4 217.7 L2079.7 220.3 L2084.1 222.9 L2088.4 225.5 L2092.7 228.1 L2097.0 230.8 L2101.4 233.5 L2105.7 236.3 L2110.0 239.0 L2114.3 241.8 L2118.6 244.6 L2123.0 247.5 L2127.3 250.4 L2131.6 253.3 L2135.9 256.2 L2140.3 259.2 L2144.6 262.2 L2148.9 265.2 L2153.2 268.2 L2157.6 271.3 L2161.9 274.4 L2166.2 277.5 L2170.5 280.7 L2174.9 283.9 L2179.2 287.1 L2183.5 290.4 L2187.8 293.6 L2192.2 297.0 L2196.5 300.3 L2200.8 303.6 L2205.1 307.0 L2209.5 310.5 L2213.8 313.9 L2218.1 317.4 L2222.4 320.9 L2226.8 324.4 L2231.1 328.0 L2235.4 331.6 L2239.7 335.2 L2244.1 338.8 L2248.4 342.5 L2252.7 346.2 L2257.0 349.9 L2261.4 353.7 L2265.7 357.5 L2270.0 361.3" fill="none" stroke="#ffb4ff" stroke-width="4" stroke-linecap="butt" stroke-dasharray="19 18.3" stroke-dashoffset="18.6"/>
<path d="M636.5 1139.5 L642.8 1127.2 L649.1 1115.1 L655.4 1103.0 L661.7 1090.9 L668.0 1078.9 L674.3 1067.0 L680.6 1055.1 L687.0 1043.3 L693.3 1031.6 L699.6 1019.9 L705.9 1008.5 L712.2 997.2 L718.5 985.9 L724.8 974.7 L731.1 963.5 L737.4 952.4 L743.7 941.4 L750.0 930.5 L756.3 919.6 L762.6 908.8 L768.9 898.0 L775.3 887.3 L781.6 876.7 L787.9 866.1 L794.2 855.6 L800.5 845.2 L806.8 834.9 L813.1 824.6 L819.4 814.4 L825.7 804.3 L832.0 794.2 L838.3 784.2 L844.6 774.2 L850.9 764.4 L857.2 754.5 L863.6 744.8 L869.9 735.1 L876.2 725.5 L882.5 716.0 L888.8 706.5 L895.1 697.1 L901.4 687.8 L907.7 678.6 L914.0 669.5 L920.3 660.4 L926.6 651.4 L932.9 642.5 L939.2 633.6 L945.5 624.8 L951.8 616.1 L958.2 607.5 L964.5 598.9 L970.8 590.4 L977.1 581.9 L983.4 573.5 L989.7 565.2 L996.0 557.0 L1002.3 548.8 L1008.6 540.7 L1014.9 532.7 L1021.2 524.8 L1027.5 516.9 L1033.8 509.1 L1040.1 501.3 L1046.5 493.7 L1052.8 486.1 L1059.1 478.5 L1065.4 471.1 L1071.7 463.7 L1078.0 456.4 L1084.3 449.1 L1090.6 441.9 L1096.9 434.8 L1103.2 427.8 L1109.5 420.8 L1115.8 413.9 L1122.1 407.1 L1128.4 400.4 L1134.7 393.7 L1141.1 387.1 L1147.4 380.5 L1153.7 374.1 L1160.0 367.7 L1166.3 361.4 L1172.6 355.2 L1178.9 349.0 L1185.2 342.9 L1191.5 336.9 L1197.8 330.9 L1204.1 325.1 L1210.4 319.3 L1216.7 313.6 L1223.0 307.9 L1229.4 302.3 L1235.7 296.8 L1242.0 291.4 L1248.3 286.0 L1254.6 280.8 L1260.9 275.6 L1267.2 270.4 L1273.5 265.4 L1279.8 260.4 L1286.1 255.5 L1292.4 250.6 L1298.7 245.8 L1305.0 241.2 L1311.3 236.5 L1317.7 232.0 L1324.0 227.5 L1330.3 223.1 L1336.6 218.8 L1342.9 214.5 L1349.2 210.4 L1355.5 206.3 L1361.8 202.2 L1368.1 198.3 L1374.4 194.4 L1380.7 190.6 L1387.0 186.8 L1393.3 183.2 L1399.6 179.6 L1405.9 176.1 L1412.3 172.6 L1418.6 169.2 L1424.9 165.9 L1431.2 162.7 L1437.5 159.6 L1443.8 156.5 L1450.1 153.5 L1456.4 150.5 L1462.7 147.7 L1469.0 144.9 L1475.3 142.2 L1481.6 139.5 L1487.9 137.0 L1494.2 134.5 L1500.6 132.0 L1506.9 129.7 L1513.2 127.4 L1519.5 125.2 L1525.8 123.1 L1532.1 121.0 L1538.4 119.0 L1544.7 117.1 L1551.0 115.3 L1557.3 113.5 L1563.6 111.8 L1569.9 110.2 L1576.2 108.6 L1582.5 107.1 L1588.8 105.7 L1595.2 104.4 L1601.5 103.1 L1607.8 101.9 L1614.1 100.8 L1620.4 99.7 L1626.7 98.7 L1633.0 97.8 L1639.3 97.0 L1645.6 96.2 L1651.9 95.5 L1658.2 94.9 L1664.5 94.4 L1670.8 93.9 L1677.1 93.5 L1683.5 93.1 L1689.8 92.9 L1696.1 92.7 L1702.4 92.5 L1708.7 92.5 L1715.0 92.5 L1721.3 92.6 L1727.6 92.7 L1733.9 93.0 L1740.2 93.3 L1746.5 93.6 L1752.8 94.1 L1759.1 94.6 L1765.4 95.2 L1771.8 95.8 L1778.1 96.5 L1784.4 97.3 L1790.7 98.2 L1797.0 99.1 L1803.3 100.1 L1809.6 101.2 L1815.9 102.3 L1822.2 103.5 L1828.5 104.8 L1834.8 106.1 L1841.1 107.5 L1847.4 109.0 L1853.7 110.6 L1860.0 112.2 L1866.4 113.9 L1872.7 115.6 L1879.0 117.5 L1885.3 119.4 L1891.6 121.3 L1897.9 123.4 L1904.2 125.5 L1910.5 127.6 L1916.8 129.9 L1923.1 132.2 L1929.4 134.5 L1935.7 137.0 L1942.0 139.5 L1948.3 142.1 L1954.7 144.7 L1961.0 147.4 L1967.3 150.2 L1973.6 153.0 L1979.9 156.0 L1986.2 158.9 L1992.5 162.0 L1998.8 165.1 L2005.1 168.3 L2011.4 171.5 L2017.7 174.8 L2024.0 178.2 L2030.3 181.7 L2036.6 185.2 L2042.9 188.8 L2049.3 192.4 L2055.6 196.1 L2061.9 199.9 L2068.2 203.8 L2074.5 207.7 L2080.8 211.7 L2087.1 215.7 L2093.4 219.8 L2099.7 224.0 L2106.0 228.2 L2112.3 232.5 L2118.6 236.9 L2124.9 241.3 L2131.2 245.9 L2137.6 250.4 L2143.9 255.1 L2150.2 259.8 L2156.5 264.5 L2162.8 269.3 L2169.1 274.2 L2175.4 279.2 L2181.7 284.2 L2188.0 289.3 L2194.3 294.5 L2200.6 299.7 L2206.9 304.9 L2213.2 310.3 L2219.5 315.7 L2225.9 321.2 L2232.2 326.7 L2238.5 332.3 L2244.8 338.0 L2251.1 343.7 L2257.4 349.5 L2263.7 355.3 L2270.0 361.3" fill="none" stroke="#ff0000" stroke-width="5.2" stroke-linecap="butt" stroke-dasharray="19 18.3" stroke-dashoffset="0"/>
<path d="M636.5 1120.5 L642.8 1108.7 L649.1 1097.0 L655.4 1085.3 L661.7 1073.7 L668.0 1062.2 L674.3 1050.7 L680.6 1039.3 L687.0 1027.9 L693.3 1016.6 L699.6 1005.4 L705.9 994.2 L712.2 983.1 L718.5 972.1 L724.8 961.1 L731.1 950.2 L737.4 939.4 L743.7 928.6 L750.0 917.9 L756.3 907.3 L762.6 896.7 L768.9 886.2 L775.3 875.7 L781.6 865.4 L787.9 855.0 L794.2 844.8 L800.5 834.6 L806.8 824.5 L813.1 814.4 L819.4 804.5 L825.7 794.6 L832.0 784.7 L838.3 774.9 L844.6 765.2 L850.9 755.6 L857.2 746.0 L863.6 736.5 L869.9 727.0 L876.2 717.7 L882.5 708.4 L888.8 699.1 L895.1 690.0 L901.4 680.9 L907.7 671.8 L914.0 662.9 L920.3 654.0 L926.6 645.2 L932.9 636.4 L939.2 627.7 L945.5 619.1 L951.8 610.6 L958.2 602.1 L964.5 593.7 L970.8 585.3 L977.1 577.1 L983.4 568.9 L989.7 560.7 L996.0 552.7 L1002.3 544.7 L1008.6 536.8 L1014.9 528.9 L1021.2 521.2 L1027.5 513.5 L1033.8 505.8 L1040.1 498.3 L1046.5 490.8 L1052.8 483.3 L1059.1 476.0 L1065.4 468.7 L1071.7 461.5 L1078.0 454.3 L1084.3 447.3 L1090.6 440.3 L1096.9 433.3 L1103.2 426.5 L1109.5 419.7 L1115.8 413.0 L1122.1 406.3 L1128.4 399.8 L1134.7 393.3 L1141.1 386.8 L1147.4 380.5 L1153.7 374.3 L1160.0 368.2 L1166.3 362.1 L1172.6 356.2 L1178.9 350.3 L1185.2 344.5 L1191.5 338.7 L1197.8 333.1 L1204.1 327.5 L1210.4 321.9 L1216.7 316.5 L1223.0 311.1 L1229.4 305.8 L1235.7 300.5 L1242.0 295.3 L1248.3 290.2 L1254.6 285.2 L1260.9 280.2 L1267.2 275.3 L1273.5 270.5 L1279.8 265.7 L1286.1 261.0 L1292.4 256.4 L1298.7 251.8 L1305.0 247.4 L1311.3 242.9 L1317.7 238.6 L1324.0 234.3 L1330.3 230.1 L1336.6 226.0 L1342.9 222.0 L1349.2 218.0 L1355.5 214.0 L1361.8 210.2 L1368.1 206.4 L1374.4 202.7 L1380.7 199.1 L1387.0 195.5 L1393.3 192.0 L1399.6 188.6 L1405.9 185.2 L1412.3 181.9 L1418.6 178.7 L1424.9 175.6 L1431.2 172.5 L1437.5 169.5 L1443.8 166.5 L1450.1 163.7 L1456.4 160.9 L1462.7 158.1 L1469.0 155.5 L1475.3 152.9 L1481.6 150.4 L1487.9 147.9 L1494.2 145.5 L1500.6 143.2 L1506.9 141.0 L1513.2 138.8 L1519.5 136.7 L1525.8 134.7 L1532.1 132.7 L1538.4 130.8 L1544.7 129.0 L1551.0 127.2 L1557.3 125.5 L1563.6 123.9 L1569.9 122.3 L1576.2 120.9 L1582.5 119.4 L1588.8 118.1 L1595.2 116.8 L1601.5 115.6 L1607.8 114.5 L1614.1 113.4 L1620.4 112.4 L1626.7 111.5 L1633.0 110.6 L1639.3 109.8 L1645.6 109.1 L1651.9 108.4 L1658.2 107.8 L1664.5 107.3 L1670.8 106.8 L1677.1 106.4 L1683.5 106.1 L1689.8 105.9 L1696.1 105.7 L1702.4 105.5 L1708.7 105.5 L1715.0 105.5 L1721.3 105.6 L1727.6 105.7 L1733.9 106.0 L1740.2 106.2 L1746.5 106.6 L1752.8 107.0 L1759.1 107.5 L1765.4 108.0 L1771.8 108.7 L1778.1 109.3 L1784.4 110.1 L1790.7 110.9 L1797.0 111.8 L1803.3 112.7 L1809.6 113.8 L1815.9 114.8 L1822.2 116.0 L1828.5 117.2 L1834.8 118.5 L1841.1 119.8 L1847.4 121.2 L1853.7 122.7 L1860.0 124.3 L1866.4 125.9 L1872.7 127.5 L1879.0 129.3 L1885.3 131.1 L1891.6 133.0 L1897.9 134.9 L1904.2 136.9 L1910.5 139.0 L1916.8 141.1 L1923.1 143.3 L1929.4 145.5 L1935.7 147.9 L1942.0 150.3 L1948.3 152.7 L1954.7 155.2 L1961.0 157.8 L1967.3 160.5 L1973.6 163.2 L1979.9 165.9 L1986.2 168.8 L1992.5 171.7 L1998.8 174.6 L2005.1 177.7 L2011.4 180.8 L2017.7 183.9 L2024.0 187.1 L2030.3 190.4 L2036.6 193.8 L2042.9 197.2 L2049.3 200.7 L2055.6 204.2 L2061.9 207.8 L2068.2 211.4 L2074.5 215.2 L2080.8 219.0 L2087.1 222.8 L2093.4 226.7 L2099.7 230.7 L2106.0 234.7 L2112.3 238.8 L2118.6 243.0 L2124.9 247.2 L2131.2 251.5 L2137.6 255.8 L2143.9 260.2 L2150.2 264.7 L2156.5 269.3 L2162.8 273.8 L2169.1 278.5 L2175.4 283.2 L2181.7 288.0 L2188.0 292.8 L2194.3 297.7 L2200.6 302.7 L2206.9 307.7 L2213.2 312.8 L2219.5 317.9 L2225.9 323.1 L2232.2 328.4 L2238.5 333.7 L2244.8 339.1 L2251.1 344.6 L2257.4 350.1 L2263.7 355.6 L2270.0 361.3" fill="none" stroke="#ff00ff" stroke-width="5.8" stroke-linecap="butt" stroke-dasharray="19 18.3" stroke-dashoffset="18.6"/>
<path d="M636.5 1094.6 L642.8 1084.3 L649.1 1073.9 L655.4 1063.7 L661.7 1053.5 L668.0 1042.8 L674.3 1031.6 L680.6 1020.4 L687.0 1009.4 L693.3 998.3 L699.6 987.4 L705.9 976.5 L712.2 965.7 L718.5 954.9 L724.8 944.2 L731.1 933.6 L737.4 923.1 L743.7 912.6 L750.0 902.1 L756.3 891.8 L762.6 881.5 L768.9 871.2 L775.3 861.1 L781.6 851.0 L787.9 840.9 L794.2 831.0 L800.5 821.0 L806.8 811.2 L813.1 801.4 L819.4 791.7 L825.7 782.0 L832.0 772.4 L838.3 762.9 L844.6 753.4 L850.9 744.1 L857.2 734.7 L863.6 725.5 L869.9 716.3 L876.2 707.2 L882.5 698.2 L888.8 689.2 L895.1 680.3 L901.4 671.4 L907.7 662.6 L914.0 653.9 L920.3 645.3 L926.6 636.7 L932.9 628.2 L939.2 619.7 L945.5 611.3 L951.8 603.0 L958.2 594.8 L964.5 586.6 L970.8 578.5 L977.1 570.5 L983.4 562.5 L989.7 554.7 L996.0 546.8 L1002.3 539.1 L1008.6 531.4 L1014.9 523.8 L1021.2 516.3 L1027.5 508.8 L1033.8 501.4 L1040.1 494.1 L1046.5 486.8 L1052.8 479.6 L1059.1 472.5 L1065.4 465.5 L1071.7 458.5 L1078.0 451.6 L1084.3 444.8 L1090.6 438.0 L1096.9 431.3 L1103.2 424.7 L1109.5 418.2 L1115.8 411.7 L1122.1 405.3 L1128.4 398.9 L1134.7 392.7 L1141.1 386.5 L1147.4 380.4 L1153.7 374.4 L1160.0 368.6 L1166.3 362.9 L1172.6 357.2 L1178.9 351.6 L1185.2 346.0 L1191.5 340.5 L1197.8 335.1 L1204.1 329.8 L1210.4 324.5 L1216.7 319.3 L1223.0 314.1 L1229.4 309.0 L1235.7 304.0 L1242.0 299.1 L1248.3 294.2 L1254.6 289.4 L1260.9 284.7 L1267.2 280.0 L1273.5 275.4 L1279.8 270.8 L1286.1 266.3 L1292.4 261.9 L1298.7 257.6 L1305.0 253.3 L1311.3 249.1 L1317.7 245.0 L1324.0 240.9 L1330.3 236.9 L1336.6 233.0 L1342.9 229.1 L1349.2 225.3 L1355.5 221.5 L1361.8 217.9 L1368.1 214.3 L1374.4 210.7 L1380.7 207.2 L1387.0 203.8 L1393.3 200.5 L1399.6 197.2 L1405.9 194.0 L1412.3 190.9 L1418.6 187.8 L1424.9 184.8 L1431.2 181.9 L1437.5 179.0 L1443.8 176.2 L1450.1 173.5 L1456.4 170.8 L1462.7 168.2 L1469.0 165.7 L1475.3 163.2 L1481.6 160.8 L1487.9 158.4 L1494.2 156.2 L1500.6 154.0 L1506.9 151.8 L1513.2 149.8 L1519.5 147.7 L1525.8 145.8 L1532.1 143.9 L1538.4 142.1 L1544.7 140.4 L1551.0 138.7 L1557.3 137.1 L1563.6 135.5 L1569.9 134.1 L1576.2 132.6 L1582.5 131.3 L1588.8 130.0 L1595.2 128.8 L1601.5 127.6 L1607.8 126.6 L1614.1 125.5 L1620.4 124.6 L1626.7 123.7 L1633.0 122.9 L1639.3 122.1 L1645.6 121.4 L1651.9 120.8 L1658.2 120.2 L1664.5 119.7 L1670.8 119.3 L1677.1 118.9 L1683.5 118.6 L1689.8 118.3 L1696.1 118.2 L1702.4 118.0 L1708.7 118.0 L1715.0 118.0 L1721.3 118.1 L1727.6 118.2 L1733.9 118.4 L1740.2 118.7 L1746.5 119.0 L1752.8 119.4 L1759.1 119.9 L1765.4 120.4 L1771.8 121.0 L1778.1 121.7 L1784.4 122.4 L1790.7 123.1 L1797.0 124.0 L1803.3 124.9 L1809.6 125.9 L1815.9 126.9 L1822.2 128.0 L1828.5 129.1 L1834.8 130.4 L1841.1 131.6 L1847.4 133.0 L1853.7 134.4 L1860.0 135.9 L1866.4 137.4 L1872.7 139.0 L1879.0 140.6 L1885.3 142.4 L1891.6 144.1 L1897.9 146.0 L1904.2 147.9 L1910.5 149.9 L1916.8 151.9 L1923.1 154.0 L1929.4 156.1 L1935.7 158.3 L1942.0 160.6 L1948.3 162.9 L1954.7 165.3 L1961.0 167.8 L1967.3 170.3 L1973.6 172.9 L1979.9 175.5 L1986.2 178.2 L1992.5 181.0 L1998.8 183.8 L2005.1 186.7 L2011.4 189.6 L2017.7 192.6 L2024.0 195.7 L2030.3 198.8 L2036.6 202.0 L2042.9 205.3 L2049.3 208.6 L2055.6 211.9 L2061.9 215.4 L2068.2 218.8 L2074.5 222.4 L2080.8 226.0 L2087.1 229.6 L2093.4 233.4 L2099.7 237.1 L2106.0 241.0 L2112.3 244.9 L2118.6 248.8 L2124.9 252.8 L2131.2 256.9 L2137.6 261.1 L2143.9 265.2 L2150.2 269.5 L2156.5 273.8 L2162.8 278.2 L2169.1 282.6 L2175.4 287.1 L2181.7 291.6 L2188.0 296.2 L2194.3 300.9 L2200.6 305.6 L2206.9 310.4 L2213.2 315.2 L2219.5 320.1 L2225.9 325.0 L2232.2 330.0 L2238.5 335.1 L2244.8 340.2 L2251.1 345.4 L2257.4 350.6 L2263.7 355.9 L2270.0 361.3" fill="none" stroke="#000" stroke-width="5.2" stroke-linecap="butt" stroke-dasharray="19 18.3" stroke-dashoffset="0"/>
<path d="M2270.0 361.3 L2270.7 361.9 L2271.3 362.5 L2272.0 363.1 L2272.6 363.7 L2273.3 364.3 L2274.0 364.9 L2274.6 365.5 L2275.3 366.1 L2276.0 366.8 L2276.6 367.4 L2277.3 368.0 L2277.9 368.6 L2278.6 369.2 L2279.3 369.8 L2279.9 370.4 L2280.6 371.1 L2281.3 371.7 L2281.9 372.3 L2282.6 372.9 L2283.2 373.5 L2283.9 374.2 L2284.6 374.8 L2285.2 375.4 L2285.9 376.0 L2286.6 376.6 L2287.2 377.3 L2287.9 377.9 L2288.5 378.5 L2289.2 379.2 L2289.9 379.8 L2290.5 380.4 L2291.2 381.0 L2291.9 381.7 L2292.5 382.3 L2293.2 382.9 L2293.8 383.6 L2294.5 384.2 L2295.2 384.8 L2295.8 385.5 L2296.5 386.1 L2297.1 386.7 L2297.8 387.4 L2298.5 388.0 L2299.1 388.6 L2299.8 389.3 L2300.5 389.9 L2301.1 390.5 L2301.8 391.2 L2302.4 391.8 L2303.1 392.5 L2303.8 393.1 L2304.4 393.7 L2305.1 394.4 L2305.8 395.0 L2306.4 395.7 L2307.1 396.3 L2307.7 397.0 L2308.4 397.6 L2309.1 398.3 L2309.7 398.9 L2310.4 399.5 L2311.1 400.2 L2311.7 400.8 L2312.4 401.5 L2313.0 402.1 L2313.7 402.8 L2314.4 403.4 L2315.0 404.1 L2315.7 404.8 L2316.4 405.4 L2317.0 406.1 L2317.7 406.7 L2318.3 407.4 L2319.0 408.0 L2319.7 408.7 L2320.3 409.3 L2321.0 410.0 L2321.6 410.7 L2322.3 411.3 L2323.0 412.0 L2323.6 412.6 L2324.3 413.3 L2325.0 414.0 L2325.6 414.6 L2326.3 415.3 L2326.9 416.0 L2327.6 416.6 L2328.3 417.3 L2328.9 418.0 L2329.6 418.6 L2330.3 419.3 L2330.9 420.0 L2331.6 420.6 L2332.2 421.3 L2332.9 422.0 L2333.6 422.6 L2334.2 423.3 L2334.9 424.0 L2335.6 424.7 L2336.2 425.3 L2336.9 426.0 L2337.5 426.7 L2338.2 427.4 L2338.9 428.0 L2339.5 428.7 L2340.2 429.4 L2340.9 430.1 L2341.5 430.8 L2342.2 431.4 L2342.8 432.1 L2343.5 432.8 L2344.2 433.5 L2344.8 434.2 L2345.5 434.8 L2346.1 435.5 L2346.8 436.2 L2347.5 436.9 L2348.1 437.6 L2348.8 438.3 L2349.5 439.0 L2350.1 439.6 L2350.8 440.3 L2351.4 441.0 L2352.1 441.7 L2352.8 442.4 L2353.4 443.1 L2354.1 443.8 L2354.8 444.5 L2355.4 445.2 L2356.1 445.9 L2356.7 446.6 L2357.4 447.3 L2358.1 448.0 L2358.7 448.7 L2359.4 449.3 L2360.1 450.0 L2360.7 450.7 L2361.4 451.4 L2362.0 452.1 L2362.7 452.8 L2363.4 453.5 L2364.0 454.2 L2364.7 455.0 L2365.4 455.7 L2366.0 456.4 L2366.7 457.1 L2367.3 457.8 L2368.0 458.5 L2368.7 459.2 L2369.3 459.9 L2370.0 460.6 L2370.6 461.3 L2371.3 462.0 L2372.0 462.7 L2372.6 463.4 L2373.3 464.1 L2374.0 464.9 L2374.6 465.6 L2375.3 466.3 L2375.9 467.0 L2376.6 467.7 L2377.3 468.4 L2377.9 469.1 L2378.6 469.9 L2379.3 470.6 L2379.9 471.3 L2380.6 472.0 L2381.2 472.7 L2381.9 473.5 L2382.6 474.2 L2383.2 474.9 L2383.9 475.6 L2384.6 476.3 L2385.2 477.1 L2385.9 477.8 L2386.5 478.5 L2387.2 479.2 L2387.9 480.0 L2388.5 480.7 L2389.2 481.4 L2389.9 482.1 L2390.5 482.9 L2391.2 483.6 L2391.8 484.3 L2392.5 485.1 L2393.2 485.8 L2393.8 486.5 L2394.5 487.3 L2395.1 488.0 L2395.8 488.7 L2396.5 489.5 L2397.1 490.2 L2397.8 490.9 L2398.5 491.7 L2399.1 492.4 L2399.8 493.1 L2400.4 493.9 L2401.1 494.6 L2401.8 495.4 L2402.4 496.1 L2403.1 496.8 L2403.8 497.6 L2404.4 498.3 L2405.1 499.1 L2405.7 499.8 L2406.4 500.6 L2407.1 501.3 L2407.7 502.1 L2408.4 502.8 L2409.1 503.6 L2409.7 504.3 L2410.4 505.0 L2411.0 505.8 L2411.7 506.5 L2412.4 507.3 L2413.0 508.0 L2413.7 508.8 L2414.4 509.6 L2415.0 510.3 L2415.7 511.1 L2416.3 511.8 L2417.0 512.6 L2417.7 513.3 L2418.3 514.1 L2419.0 514.8 L2419.6 515.6 L2420.3 516.4 L2421.0 517.1 L2421.6 517.9 L2422.3 518.6 L2423.0 519.4 L2423.6 520.2 L2424.3 520.9 L2424.9 521.7 L2425.6 522.4 L2426.3 523.2 L2426.9 524.0 L2427.6 524.7 L2428.3 525.5 L2428.9 526.3 L2429.6 527.0 L2430.2 527.8 L2430.9 528.6 L2431.6 529.4 L2432.2 530.1 L2432.9 530.9 L2433.6 531.7 L2434.2 532.4 L2434.9 533.2 L2435.5 534.0 L2436.2 534.8 L2436.9 535.5 L2437.5 536.3 L2438.2 537.1 L2438.9 537.9 L2439.5 538.6 L2440.2 539.4 L2440.8 540.2 L2441.5 541.0" fill="none" stroke="#ff10a0" stroke-width="5.4" stroke-linecap="butt"/>
<path d="M2270.0 361.3 L2270.7 361.9 L2271.3 362.5 L2272.0 363.1 L2272.6 363.7 L2273.3 364.3 L2274.0 364.9 L2274.6 365.5 L2275.3 366.1 L2276.0 366.8 L2276.6 367.4 L2277.3 368.0 L2277.9 368.6 L2278.6 369.2 L2279.3 369.8 L2279.9 370.4 L2280.6 371.1 L2281.3 371.7 L2281.9 372.3 L2282.6 372.9 L2283.2 373.5 L2283.9 374.2 L2284.6 374.8 L2285.2 375.4 L2285.9 376.0 L2286.6 376.6 L2287.2 377.3 L2287.9 377.9 L2288.5 378.5 L2289.2 379.2 L2289.9 379.8 L2290.5 380.4 L2291.2 381.0 L2291.9 381.7 L2292.5 382.3 L2293.2 382.9 L2293.8 383.6 L2294.5 384.2 L2295.2 384.8 L2295.8 385.5 L2296.5 386.1 L2297.1 386.7 L2297.8 387.4 L2298.5 388.0 L2299.1 388.6 L2299.8 389.3 L2300.5 389.9 L2301.1 390.5 L2301.8 391.2 L2302.4 391.8 L2303.1 392.5 L2303.8 393.1 L2304.4 393.7 L2305.1 394.4 L2305.8 395.0 L2306.4 395.7 L2307.1 396.3 L2307.7 397.0 L2308.4 397.6 L2309.1 398.3 L2309.7 398.9 L2310.4 399.5 L2311.1 400.2 L2311.7 400.8 L2312.4 401.5 L2313.0 402.1 L2313.7 402.8 L2314.4 403.4 L2315.0 404.1 L2315.7 404.8 L2316.4 405.4 L2317.0 406.1 L2317.7 406.7 L2318.3 407.4 L2319.0 408.0 L2319.7 408.7 L2320.3 409.3 L2321.0 410.0 L2321.6 410.7 L2322.3 411.3 L2323.0 412.0 L2323.6 412.6 L2324.3 413.3 L2325.0 414.0 L2325.6 414.6 L2326.3 415.3 L2326.9 416.0 L2327.6 416.6 L2328.3 417.3 L2328.9 418.0 L2329.6 418.6 L2330.3 419.3 L2330.9 420.0 L2331.6 420.6 L2332.2 421.3 L2332.9 422.0 L2333.6 422.6 L2334.2 423.3 L2334.9 424.0 L2335.6 424.7 L2336.2 425.3 L2336.9 426.0 L2337.5 426.7 L2338.2 427.4 L2338.9 428.0 L2339.5 428.7 L2340.2 429.4 L2340.9 430.1 L2341.5 430.8 L2342.2 431.4 L2342.8 432.1 L2343.5 432.8 L2344.2 433.5 L2344.8 434.2 L2345.5 434.8 L2346.1 435.5 L2346.8 436.2 L2347.5 436.9 L2348.1 437.6 L2348.8 438.3 L2349.5 439.0 L2350.1 439.6 L2350.8 440.3 L2351.4 441.0 L2352.1 441.7 L2352.8 442.4 L2353.4 443.1 L2354.1 443.8 L2354.8 444.5 L2355.4 445.2 L2356.1 445.9 L2356.7 446.6 L2357.4 447.3 L2358.1 448.0 L2358.7 448.7 L2359.4 449.3 L2360.1 450.0 L2360.7 450.7 L2361.4 451.4 L2362.0 452.1 L2362.7 452.8 L2363.4 453.5 L2364.0 454.2 L2364.7 455.0 L2365.4 455.7 L2366.0 456.4 L2366.7 457.1 L2367.3 457.8 L2368.0 458.5 L2368.7 459.2 L2369.3 459.9 L2370.0 460.6 L2370.6 461.3 L2371.3 462.0 L2372.0 462.7 L2372.6 463.4 L2373.3 464.1 L2374.0 464.9 L2374.6 465.6 L2375.3 466.3 L2375.9 467.0 L2376.6 467.7 L2377.3 468.4 L2377.9 469.1 L2378.6 469.9 L2379.3 470.6 L2379.9 471.3 L2380.6 472.0 L2381.2 472.7 L2381.9 473.5 L2382.6 474.2 L2383.2 474.9 L2383.9 475.6 L2384.6 476.3 L2385.2 477.1 L2385.9 477.8 L2386.5 478.5 L2387.2 479.2 L2387.9 480.0 L2388.5 480.7 L2389.2 481.4 L2389.9 482.1 L2390.5 482.9 L2391.2 483.6 L2391.8 484.3 L2392.5 485.1 L2393.2 485.8 L2393.8 486.5 L2394.5 487.3 L2395.1 488.0 L2395.8 488.7 L2396.5 489.5 L2397.1 490.2 L2397.8 490.9 L2398.5 491.7 L2399.1 492.4 L2399.8 493.1 L2400.4 493.9 L2401.1 494.6 L2401.8 495.4 L2402.4 496.1 L2403.1 496.8 L2403.8 497.6 L2404.4 498.3 L2405.1 499.1 L2405.7 499.8 L2406.4 500.6 L2407.1 501.3 L2407.7 502.1 L2408.4 502.8 L2409.1 503.6 L2409.7 504.3 L2410.4 505.0 L2411.0 505.8 L2411.7 506.5 L2412.4 507.3 L2413.0 508.0 L2413.7 508.8 L2414.4 509.6 L2415.0 510.3 L2415.7 511.1 L2416.3 511.8 L2417.0 512.6 L2417.7 513.3 L2418.3 514.1 L2419.0 514.8 L2419.6 515.6 L2420.3 516.4 L2421.0 517.1 L2421.6 517.9 L2422.3 518.6 L2423.0 519.4 L2423.6 520.2 L2424.3 520.9 L2424.9 521.7 L2425.6 522.4 L2426.3 523.2 L2426.9 524.0 L2427.6 524.7 L2428.3 525.5 L2428.9 526.3 L2429.6 527.0 L2430.2 527.8 L2430.9 528.6 L2431.6 529.4 L2432.2 530.1 L2432.9 530.9 L2433.6 531.7 L2434.2 532.4 L2434.9 533.2 L2435.5 534.0 L2436.2 534.8 L2436.9 535.5 L2437.5 536.3 L2438.2 537.1 L2438.9 537.9 L2439.5 538.6 L2440.2 539.4 L2440.8 540.2 L2441.5 541.0" fill="none" stroke="#000" stroke-width="5.4" stroke-linecap="butt" stroke-dasharray="19 18.3" stroke-dashoffset="0"/>
<defs><linearGradient id="g1" x1="0" y1="0" x2="0" y2="1"><stop offset="0" stop-color="#4a4aa6"/><stop offset="0.55" stop-color="#5a5ab0"/><stop offset="1" stop-color="#a8a8da"/></linearGradient><linearGradient id="g2" x1="0" y1="1" x2="0" y2="0"><stop offset="0" stop-color="#4a4aa6"/><stop offset="0.2" stop-color="#9c9cd4"/><stop offset="0.55" stop-color="#4a4aa6"/><stop offset="1" stop-color="#a8a8da"/></linearGradient></defs>
<polygon points="1456.6,97 1460.9,97 1458.4,196 1453.6,196" fill="url(#g1)"/>
<polygon points="1438.5,194.5 1475,194.5 1454,263" fill="#3c3c9c"/>
<polygon points="727.2,1040 731.4,1040 742.4,888 737.2,888" fill="url(#g2)"/>
<polygon points="724.5,888 759.5,888 746,818.5" fill="#3c3c9c"/>
</svg>
</body></html>
